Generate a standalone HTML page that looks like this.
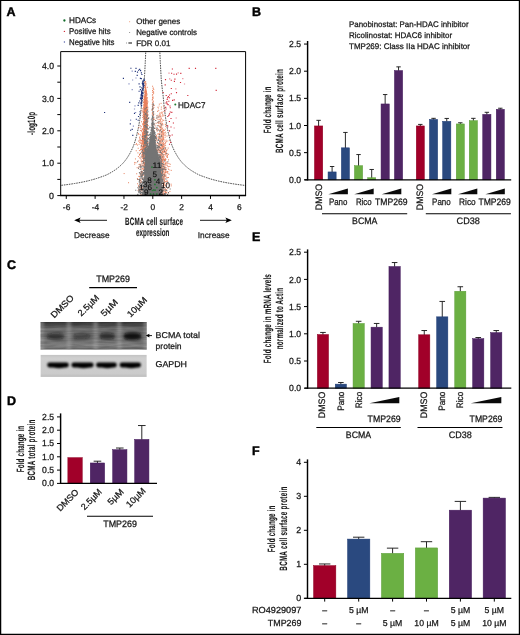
<!DOCTYPE html>
<html lang="en"><head><meta charset="utf-8"><title>Figure: HDAC inhibition and BCMA expression</title>
<style>html,body{margin:0;padding:0;background:#fff}body{width:520px;height:635px;overflow:hidden}svg{display:block}text{stroke:#161616;stroke-width:.25px;text-rendering:geometricPrecision}text.pl{stroke:#000;stroke-width:.45px}text.cn{stroke-width:.1px}text.nm{stroke:#0c0c0c;stroke-width:.12px}</style>
</head><body>
<svg width="520" height="635" viewBox="0 0 520 635" font-family='"Liberation Sans", sans-serif' font-size="8.4" fill="#161616">
<defs>
<clipPath id="clipA"><rect x="60.7" y="51.6" width="184.9" height="143.9"/></clipPath>
<clipPath id="clipC1"><rect x="40.4" y="321.9" width="106.4" height="27.8"/></clipPath>
<clipPath id="clipC2"><rect x="40.4" y="354.7" width="106.4" height="22.2"/></clipPath>
<filter id="blur2" x="-20%" y="-50%" width="140%" height="200%"><feGaussianBlur stdDeviation="1.8"/></filter>
<filter id="blur1" x="-20%" y="-50%" width="140%" height="200%"><feGaussianBlur stdDeviation="0.8"/></filter>
<filter id="noise" x="0" y="0" width="100%" height="100%"><feTurbulence type="fractalNoise" baseFrequency="0.06 0.55" numOctaves="2" seed="4"/><feColorMatrix type="matrix" values="0 0 0 0 0  0 0 0 0 0  0 0 0 0 0  1.5 0 0 0 -0.45"/></filter>
<linearGradient id="b1bg" x1="0" y1="0" x2="0" y2="1"><stop offset="0" stop-color="#383838"/><stop offset="0.12" stop-color="#4c4c4c"/><stop offset="0.24" stop-color="#747474"/><stop offset="0.36" stop-color="#727272"/><stop offset="0.52" stop-color="#686868"/><stop offset="0.68" stop-color="#767676"/><stop offset="0.84" stop-color="#868686"/><stop offset="0.94" stop-color="#747474"/><stop offset="1" stop-color="#5c5c5c"/></linearGradient>
<linearGradient id="b2bg" x1="0" y1="0" x2="0" y2="1"><stop offset="0" stop-color="#c2c2c2"/><stop offset="0.15" stop-color="#cfcfcf"/><stop offset="0.85" stop-color="#cbcbcb"/><stop offset="1" stop-color="#bdbdbd"/></linearGradient>
</defs>
<rect x="0" y="0" width="520" height="635" fill="#fff"/>
<text x="6.6" y="16.4" font-size="12.5" font-weight="bold" class="pl" fill="#000">A</text>
<circle cx="64.4" cy="20.5" r="1.15" fill="#0f6a28"/>
<circle cx="64.4" cy="31.4" r="0.7" fill="#d0303c"/>
<circle cx="64.4" cy="42" r="0.7" fill="#5560a8"/>
<text x="69" y="23" font-size="8.2" textLength="27.2" lengthAdjust="spacingAndGlyphs">HDACs</text>
<text x="69" y="33.8" font-size="8.2" textLength="41.6" lengthAdjust="spacingAndGlyphs">Positive hits</text>
<text x="69" y="44.6" font-size="8.2" textLength="45.4" lengthAdjust="spacingAndGlyphs">Negative hits</text>
<rect x="129.2" y="21.3" width="0.9" height="0.9" fill="#ee8a60"/>
<rect x="129.2" y="32.1" width="0.9" height="0.9" fill="#777"/>
<rect x="126.2" y="42.6" width="0.8" height="0.8" fill="#555"/>
<rect x="128.4" y="42.4" width="3.6" height="1.2" fill="#333"/>
<text x="136.2" y="24.2" font-size="8">Other genes</text>
<text x="136.2" y="35" font-size="8" textLength="60.8" lengthAdjust="spacingAndGlyphs">Negative controls</text>
<text x="136.2" y="45.7" font-size="8">FDR 0.01</text>
<g clip-path="url(#clipA)">
<path d="M145.83,50 145.76,51.5 145.7,53 145.63,54.5 145.56,56 145.5,57.5 145.43,59 145.36,60.5 145.28,62 145.21,63.5 145.13,65 145.06,66.5 144.98,68 144.9,69.5 144.81,71 144.73,72.5 144.64,74 144.55,75.5 144.46,77 144.37,78.5 144.26,80 144.12,81.5 143.97,83 143.81,84.5 143.65,86 143.49,87.5 143.32,89 143.14,90.5 142.96,92 142.77,93.5 142.58,95 142.42,96.5 142.28,98 142.14,99.5 142,101 141.85,102.5 141.69,104 141.53,105.5 141.37,107 141.2,108.5 141.03,110 140.85,111.5 140.66,113 140.47,114.5 140.27,116 140.06,117.5 139.84,119 139.62,120.5 139.39,122 139.15,123.5 138.9,125 138.63,126.5 138.33,128 138.02,129.5 137.7,131 137.36,132.5 137.01,134 136.64,135.5 136.25,137 135.84,138.5 135.41,140 134.96,141.5 134.48,143 133.97,144.5 133.4,146 132.77,147.5 132.1,149 131.39,150.5 131.14,151 130.89,151.5 130.62,152 130.36,152.5 130.08,153 129.8,153.5 129.52,154 129.23,154.5 128.94,155 128.65,155.5 128.35,156 128.03,156.5 127.72,157 127.39,157.5 127.06,158 126.71,158.5 126.36,159 125.99,159.5 125.62,160 125.23,160.5 124.84,161 124.43,161.5 124.01,162 123.58,162.5 123.12,163 122.65,163.5 122.17,164 121.67,164.5 121.15,165 120.61,165.5 120.06,166 119.49,166.5 118.92,167 118.33,167.5 117.71,168 117.08,168.5 116.42,169 115.74,169.5 115.02,170 114.28,170.5 113.5,171 112.69,171.5 111.85,172 111,172.5 110.14,173 109.24,173.5 108.31,174 107.33,174.5 106.3,175 105.06,175.5 103.75,176 102.37,176.5 100.91,177 99.45,177.5 98.01,178 96.49,178.5 94.88,179 93.17,179.5 91.35,180 89.42,180.5 87.36,181 85.16,181.5 82.8,182 80.25,182.5 77.51,183 74.55,183.5 71.33,184 67.84,184.5 64.02,185 59.81,185.5 55.1,186 49.87,186.5 44.05,187" fill="none" stroke="#3a3a3a" stroke-width="0.9" stroke-dasharray="1.6 0.9"/>
<path d="M159.77,50 159.84,51.5 159.9,53 159.97,54.5 160.04,56 160.1,57.5 160.17,59 160.24,60.5 160.32,62 160.39,63.5 160.47,65 160.54,66.5 160.62,68 160.7,69.5 160.79,71 160.87,72.5 160.96,74 161.05,75.5 161.14,77 161.23,78.5 161.34,80 161.48,81.5 161.63,83 161.79,84.5 161.95,86 162.11,87.5 162.28,89 162.46,90.5 162.64,92 162.83,93.5 163.02,95 163.18,96.5 163.32,98 163.46,99.5 163.6,101 163.75,102.5 163.91,104 164.07,105.5 164.23,107 164.4,108.5 164.57,110 164.75,111.5 164.94,113 165.13,114.5 165.33,116 165.54,117.5 165.76,119 165.98,120.5 166.21,122 166.45,123.5 166.7,125 166.97,126.5 167.27,128 167.58,129.5 167.9,131 168.24,132.5 168.59,134 168.96,135.5 169.35,137 169.76,138.5 170.19,140 170.64,141.5 171.12,143 171.63,144.5 172.2,146 172.83,147.5 173.5,149 174.21,150.5 174.46,151 174.71,151.5 174.98,152 175.24,152.5 175.52,153 175.8,153.5 176.08,154 176.37,154.5 176.66,155 176.95,155.5 177.25,156 177.57,156.5 177.88,157 178.21,157.5 178.54,158 178.89,158.5 179.24,159 179.61,159.5 179.98,160 180.37,160.5 180.76,161 181.17,161.5 181.59,162 182.02,162.5 182.48,163 182.95,163.5 183.43,164 183.93,164.5 184.45,165 184.99,165.5 185.54,166 186.11,166.5 186.68,167 187.27,167.5 187.89,168 188.52,168.5 189.18,169 189.86,169.5 190.58,170 191.32,170.5 192.1,171 192.91,171.5 193.75,172 194.6,172.5 195.46,173 196.36,173.5 197.29,174 198.27,174.5 199.3,175 200.54,175.5 201.85,176 203.23,176.5 204.69,177 206.15,177.5 207.59,178 209.11,178.5 210.72,179 212.43,179.5 214.25,180 216.18,180.5 218.24,181 220.44,181.5 222.8,182 225.35,182.5 228.09,183 231.05,183.5 234.27,184 237.76,184.5 241.58,185 245.79,185.5 250.5,186 255.73,186.5 261.55,187" fill="none" stroke="#3a3a3a" stroke-width="0.9" stroke-dasharray="1.6 0.9"/>
<path d="M145.13,81.56h1M144.52,82.59h1M144.12,82.18h1M144.71,83.09h1M145.48,83.3h1M145.27,84.04h1M145.54,84.98h1M144.65,85.16h1M144.64,85.02h1M144.82,86.24h1M144.27,86.03h1M145,86.84h1M144.02,87.64h1M144.89,87.46h1M146.79,87.28h1M144.89,88.71h1M144.97,88.32h1M145.4,88.07h1M145.3,89.4h1M144.42,89.96h1M145.4,89.85h1M144.96,89.91h1M144.77,90.98h1M145.13,90.63h1M144.94,90.78h1M145.25,90.33h1M145,90.96h1M144.64,91.1h1M145.11,91.06h1M144.58,91.56h1M145.41,91.45h1M146.03,91.13h1M145.55,91.64h1M145.48,91.21h1M145.25,92.97h1M144.44,92.88h1M143.91,92.21h1M145.92,92.64h1M145.51,92.1h1M144.99,92.26h1M144.74,92.77h1M145.6,93.09h1M145.1,93.58h1M146.07,93.37h1M145.9,93.45h1M144.84,93.57h1M145.25,93.87h1M145.47,93.91h1M145.07,93.82h1M145.56,93.74h1M146.61,94.2h1M144.59,94.6h1M145.26,94.42h1M145.24,94.96h1M144.91,94.24h1M144.51,94.82h1M144.96,94.6h1M145.57,94.72h1M145.21,94.07h1M146.12,95.61h1M145.57,95.28h1M144.83,95.02h1M144.83,95.27h1M145.19,95.18h1M144.71,95.37h1M144.91,95.36h1M146.27,95.89h1M144.95,95.69h1M145.23,95.58h1M145.25,96.91h1M145.25,96.7h1M145.04,96.64h1M145,96.48h1M144.36,97h1M143.82,96.08h1M144.7,96.9h1M144.66,96.74h1M143.68,96.92h1M144.39,96.35h1M143.46,96.87h1M145.78,97.79h1M144.25,97.62h1M144.09,97.38h1M144.52,97.08h1M146.78,97.64h1M145,97.73h1M144.97,97.39h1M143.99,97.44h1M146.27,97.84h1M145.77,97.03h1M144.48,97.6h1M145.14,97.7h1M145.63,98.61h1M144.76,98.01h1M144.82,98.3h1M144.56,98.17h1M144.57,98.91h1M144.29,98.89h1M144.79,98.33h1M144.58,98.43h1M146.56,98.81h1M144.18,98.38h1M144.88,98.58h1M145.48,98.5h1M144.54,99.85h1M143.03,99.28h1M144.41,99.17h1M145.27,99.21h1M144.36,99.41h1M144.35,99.32h1M145.99,99.84h1M144.95,99.07h1M145.23,99.03h1M144.87,99.71h1M144.51,99.57h1M146.46,99.02h1M146.65,100.45h1M145.3,100.24h1M146.21,100.14h1M145.4,100.45h1M144.16,100.63h1M143.73,100.96h1M145.35,100.68h1M145.98,100.18h1M143.71,100.01h1M145.29,100.18h1M144.29,100.27h1M146.15,100.52h1M145.08,100.61h1M144.17,100.79h1M146.31,101.09h1M144.46,101.13h1M143.68,101.45h1M143.67,101.38h1M146.17,101.57h1M143.95,101.94h1M144.69,101.46h1M144.55,101.72h1M144.15,101.82h1M143.96,101.21h1M147.44,101.9h1M144.74,101.54h1M144.2,101.79h1M146.78,101.86h1M143.99,102.08h1M145.43,102.77h1M146.62,102.49h1M145.32,102.06h1M145.4,102.8h1M145.74,102.79h1M145.66,102.14h1M145.89,102.72h1M144.22,102.84h1M143.03,102.49h1M145.56,102.95h1M145.35,102.53h1M144.86,102.29h1M143.77,102.52h1M144.3,102.84h1M144.72,103.85h1M145.47,103.9h1M146.72,103.97h1M144.47,103.52h1M144.75,103.54h1M144.85,103.5h1M144.88,103.97h1M143.7,103.52h1M145.96,103.56h1M144.89,103.49h1M144.7,103.54h1M146.98,103.41h1M144.47,103.27h1M145.69,103.47h1M145.7,103.82h1M144.76,104.48h1M145.55,104.62h1M146.1,104.93h1M146.16,104.02h1M145.21,104.19h1M146.38,104.32h1M144.69,104.36h1M144.71,104.73h1M144.32,104.12h1M144.96,104.2h1M144.19,104.53h1M145.35,104.41h1M145.34,104.53h1M145.53,104.63h1M143.25,104.64h1M144.66,105.86h1M144.9,105.23h1M143.3,105.9h1M144.17,105.32h1M146.91,105.22h1M145.37,106h1M144.68,105.24h1M144.97,105.73h1M145.41,105.83h1M145.11,105.42h1M144.53,105.4h1M145.61,105.69h1M145.06,105.68h1M145.44,105.91h1M144.9,105.51h1M143.58,105.76h1M144.96,106.07h1M146.14,106.11h1M145.26,106.51h1M145.35,106.57h1M145.46,106.2h1M147.13,106.84h1M144.86,106.1h1M145.98,106.06h1M144.67,106.76h1M143.88,106.33h1M145.22,106.43h1M146.44,106.6h1M145.1,106.84h1M143.52,106.18h1M145.42,106.41h1M145.56,106.2h1M145.95,106.02h1M144.44,107.8h1M143.16,107.63h1M144.06,107.4h1M144.31,107.98h1M144.86,107.8h1M147.07,107.74h1M145.36,107.78h1M144.08,107.9h1M144.42,107.88h1M143.44,107.77h1M144.91,107.41h1M144.62,107.34h1M145.86,107.47h1M145.03,107.64h1M145.23,107.62h1M147.25,107.67h1M144.32,107.34h1M143.91,108.39h1M144.02,109h1M143.79,108.76h1M146.28,108.98h1M145.15,108.74h1M144.72,108.26h1M145.15,108.2h1M145.56,108.38h1M145.39,108.91h1M142.45,108.55h1M144.84,108.57h1M143.82,109h1M143.64,108.08h1M144.98,108.6h1M144.67,108.93h1M144.39,108.16h1M145.07,108.5h1M145.91,109.06h1M144.61,109.53h1M144.42,109.6h1M145.55,109.66h1M144.63,109.56h1M146.47,109.3h1M144.97,109.01h1M145.25,109.16h1M143.35,109.75h1M146.28,109.75h1M147.28,109.05h1M144.8,109.07h1M143.94,109.91h1M145.43,109.97h1M142.7,109.24h1M144.62,109.72h1M146.73,109.47h1M144.71,110.12h1M144.3,110.62h1M145.13,110.05h1M145.7,110.53h1M145.7,110.67h1M144.85,110.46h1M146.24,110.42h1M141.57,110.78h1M144.28,110.95h1M144.98,110.73h1M145.43,110.89h1M144.28,110.78h1M144.29,110.27h1M143.73,110.69h1M144.42,110.63h1M145.22,110.75h1M145.64,110.98h1M145.28,111.88h1M145.02,111.27h1M144.6,111.43h1M144.61,111.54h1M146.22,111.07h1M145.71,111.55h1M144.14,111.63h1M145.75,111.21h1M144.87,111.34h1M143.04,111.07h1M145.44,111.12h1M143.63,111.77h1M144.25,111.21h1M145.29,111.81h1M143.23,111.37h1M142.47,111.33h1M144.88,111.55h1M142.66,112.37h1M145.22,112.1h1M144.64,112.08h1M143.39,112.56h1M145.07,112.3h1M145.55,112.78h1M145.25,112.66h1M144.39,112.08h1M146.46,112.69h1M145.52,112.28h1M145.67,112.73h1M146.1,112.37h1M145.99,112.57h1M147.01,112.92h1M144.1,112.44h1M144.62,112.8h1M145.76,112.4h1M144.92,113.89h1M145.88,113.37h1M144.12,113.36h1M145.53,113.19h1M145.29,113.56h1M143.69,113.84h1M145.68,113.56h1M146.46,113.88h1M146.13,113.28h1M145.09,113.54h1M146.37,113.57h1M144.6,113.8h1M143.21,113.06h1M144.4,113.08h1M144.74,113.08h1M142.75,113.08h1M145.96,113.63h1M146.25,114.25h1M145.03,114.22h1M143.65,114.76h1M143.48,114.39h1M147.22,114.67h1M143.3,114.49h1M144.52,114.71h1M143.26,114.91h1M145.94,114.67h1M145.58,114.85h1M143.05,114.89h1M144.09,114.96h1M143.93,114.71h1M143.95,114.8h1M145.42,114.15h1M145.91,114.74h1M144.85,114.17h1M144.17,115.42h1M147.56,115.06h1M146.02,115.31h1M145.88,115.78h1M145.96,115.18h1M145.33,115.58h1M145.37,115.91h1M145.01,115.18h1M145.05,115.22h1M146.54,115.59h1M145.23,115.22h1M145.67,115.17h1M144.38,115.76h1M146.1,115.82h1M144.74,115.48h1M147.07,115.91h1M142.39,115.34h1M144.12,115.48h1M146.66,116.05h1M144.25,116.38h1M144.02,116.53h1M144.76,116.99h1M144.87,116.66h1M145.02,116.47h1M145.35,116.37h1M143.25,116.61h1M145.38,116.16h1M145.64,116.26h1M143.35,116.87h1M144.69,116.99h1M144.28,116.27h1M144.72,116.77h1M145.76,116h1M143,116.82h1M144.66,116.08h1M146.53,116.1h1M146.2,117.47h1M144.43,117.86h1M145.11,117.3h1M143.74,117.92h1M145.18,117.09h1M144.18,117.54h1M145.94,117.53h1M146.52,117.31h1M145.65,117.31h1M145.25,117.47h1M143.79,117.72h1M146.1,117.11h1M142.13,117.39h1M145.49,117.83h1M145.87,117.65h1M144.91,117.71h1M143.75,117.24h1M144.32,118.99h1M145.2,118.8h1M146.25,118.29h1M143.93,118.38h1M144.59,118.34h1M144.39,118.39h1M144.1,118.2h1M143.55,118.73h1M147.1,118.56h1M143.8,118.72h1M146.58,118.09h1M146.16,118.14h1M145.71,118.71h1M143.14,118.18h1M145.99,118.59h1M144.91,118.09h1M145.44,118.12h1M146.99,118.41h1M145.87,119.51h1M144.99,119.65h1M142.77,119.39h1M144.62,119.33h1M144.88,119.4h1M146.7,119.7h1M144.56,119.66h1M145.75,119.61h1M144.9,119.34h1M145.61,119.65h1M145.44,119.51h1M145.46,119.79h1M143.45,119.16h1M145.91,119.77h1M144,119.35h1M145.87,119.5h1M146.12,119.99h1M145.13,120.72h1M144.1,120.94h1M144.9,120.63h1M145.2,120.24h1M144.43,120.58h1M143.79,120.93h1M144.2,120.36h1M144.87,120.97h1M145.9,120.14h1M143.96,120.56h1M144.53,120.56h1M147.19,120.99h1M144.28,120.82h1M144.4,120.82h1M145.41,120.29h1M144.25,120.57h1M145.3,120.83h1M146.04,121.03h1M147.4,121.18h1M144.5,121.66h1M143.85,121.31h1M143.1,121.38h1M144.79,121.59h1M144.54,121.2h1M145.43,121.47h1M145.6,121.57h1M143.86,121.17h1M144.61,121.57h1M144.53,121.33h1M144.48,121.67h1M146.21,121.14h1M144.34,121.47h1M143.49,121.41h1M143.49,121.76h1M141.04,121.75h1M145.03,122.86h1M143.33,122.41h1M145.3,122.91h1M143.48,122.53h1M144.49,122.9h1M146.45,122.32h1M145.32,122.9h1M143.1,122.73h1M143.6,122.3h1M145.24,122.59h1M144.96,122.45h1M144.4,122.5h1M144.92,122.69h1M144.77,122.53h1M145.69,122.4h1M147.02,122.24h1M145.76,122.97h1M142.76,123.87h1M145.69,123.22h1M142.32,123.75h1M143.65,123.1h1M145.72,123.79h1M145.7,123.95h1M144.72,123h1M145.67,123.32h1M146.39,123.06h1M143.35,123.4h1M144.37,123.36h1M144.5,123.03h1M144.16,123.9h1M145.97,123.93h1M143.86,123.98h1M144.82,123.3h1M145.29,123.92h1M144.17,124.35h1M145.82,124.47h1M146.85,125h1M144.13,124.2h1M144.05,124.88h1M146.17,124.05h1M145.85,124.31h1M145.95,124.9h1M143.27,124.13h1M145.86,124.7h1M144.16,124.08h1M143.99,124.22h1M146.42,124.2h1M144.82,124.18h1M146.43,124.79h1M143.34,124.37h1M142.5,124.59h1M146.26,125.3h1M143.82,125.28h1M147.59,125.64h1M146.5,125.44h1M144.25,125.53h1M144.54,125.6h1M144.61,125.28h1M146.83,125.09h1M144.66,125.29h1M143.7,125.28h1M145.64,125.55h1M147.05,125.99h1M142.66,125.03h1M145.11,125.38h1M143.83,125.93h1M144.62,125.56h1M143.47,125.64h1M146.01,125.78h1M145.67,126.51h1M143.02,126.52h1M145.59,126.95h1M146.53,126.17h1M144.72,126.61h1M145.94,126.77h1M144.82,126.79h1M143.7,126.49h1M143.31,126.22h1M143.9,126.04h1M144.23,126.6h1M142.97,126.87h1M144.74,126.18h1M144.79,126.5h1M143.68,126.43h1M144.94,126.8h1M145.95,126.07h1M143.64,127.79h1M145.24,127.24h1M145.45,127.04h1M143.44,127.31h1M143.5,127.26h1M146.58,127.59h1M145.82,127.17h1M145.62,127.25h1M146.22,127.83h1M145.79,127.79h1M145.06,127.36h1M144.94,127.22h1M144.5,127.49h1M145.28,127.76h1M144.51,127.46h1M145.49,127.74h1M144.79,127.89h1M144.14,128.39h1M145.85,128.08h1M146.75,128.03h1M144.48,128.73h1M144.51,128.23h1M146.19,128.24h1M145.67,128.46h1M144.04,128.34h1M144.24,128.98h1M144.3,128.4h1M145.65,128.65h1M144.97,128.69h1M142.22,128.86h1M143.08,128.46h1M145.25,128.39h1M143.46,128.78h1M144.07,128.22h1M145.22,128.55h1M144.85,129.2h1M145.97,129.31h1M146.51,129.45h1M144.42,129.86h1M144.14,129.2h1M144.86,129.69h1M144.48,129.36h1M144.77,129.18h1M142.17,129.26h1M146.39,129.72h1M144.03,129.27h1M145.09,129.94h1M144.73,129.36h1M142.37,129.91h1M143.96,129.02h1M145.69,129.08h1M143.46,129.88h1M146.54,129.52h1M144.52,130.39h1M144.88,130.15h1M145.63,130.6h1M144.72,130.42h1M145.88,130.54h1M146.08,130.26h1M144.1,130.73h1M143.84,130.2h1M144.17,130.28h1M143.15,130.39h1M144.65,130.87h1M145.6,130.34h1M144.78,130.22h1M144.56,130.63h1M145.82,130.57h1M141.07,130.3h1M145.31,130.67h1M144.02,130.69h1M145.13,131.96h1M143.71,131.63h1M143.25,131.09h1M145.07,131.06h1M143.7,131.38h1M145.88,131.28h1M143.2,131.16h1M145.36,131.17h1M144.49,131.67h1M145.07,131.34h1M145.52,131.42h1M145.94,131.7h1M144.37,131.55h1M144.18,131.39h1M145.75,131.36h1M145.01,131.05h1M143.13,131.5h1M143.63,132.25h1M142.77,132.02h1M146.85,132.57h1M144,132.26h1M143.65,132.47h1M145.71,132.62h1M144.06,132.58h1M144.69,132.94h1M142.48,132.62h1M143.47,132.41h1M145,132.83h1M142.15,132.88h1M146.5,132.04h1M143.25,132.14h1M144.38,132.36h1M144.96,132.98h1M145.18,132.23h1M144.43,132.68h1M144.47,133.39h1M142.36,133.24h1M144.49,133.55h1M141.91,133.62h1M143.39,133.97h1M142.72,133.33h1M146.84,133.31h1M143.67,133.72h1M142.34,133.96h1M145.47,133.82h1M146.08,133.49h1M143.61,133.56h1M145.26,133.75h1M144.49,133.53h1M145.48,133.32h1M143.68,133.18h1M144.36,133.06h1M146.19,133.07h1M145.74,134.45h1M143.51,134.77h1M144.48,134.87h1M145.42,134.87h1M144.75,134.51h1M142.57,134.8h1M145.82,134.25h1M143.77,134.72h1M145.53,134.76h1M145.26,134.84h1M142.73,134.42h1M142.41,134.71h1M142.46,134.8h1M142.86,134.13h1M145.88,134.23h1M146.29,134.18h1M144.53,134.94h1M145.85,134.97h1M146.03,135.63h1M148.38,135.4h1M142.59,135.05h1M144.67,135.71h1M144.65,135.29h1M145.09,135.73h1M144.33,135.33h1M142.75,135.03h1M143.91,135.37h1M145.23,135.31h1M141.7,135.28h1M142.51,135.39h1M142.64,135.98h1M143.72,135.39h1M142.6,135.8h1M144.68,135.15h1M144.97,135.93h1M143.62,135.25h1M144.39,136.02h1M145.63,136.57h1M145.97,136.27h1M142.92,136.23h1M144.49,136.26h1M147.22,136.05h1M145.57,136.31h1M145.04,136.08h1M145.89,137h1M145.49,136.2h1M143.06,136.41h1M143.91,136.81h1M144.64,136.55h1M143.46,136.66h1M143.47,136.94h1M145.94,136.86h1M144.26,136.83h1M144.48,136.72h1M144.62,137.12h1M142.71,137.07h1M146.27,137.31h1M145.34,137.51h1M144.36,137.96h1M141.6,137.01h1M143.82,137.79h1M142.08,137.74h1M145.92,137.83h1M144.99,137.77h1M144.23,137.95h1M143.98,137.4h1M143.17,137.91h1M143.35,137.02h1M143.8,137.39h1M142.78,137.37h1M142,137.36h1M143.55,137.64h1M145.27,138.32h1M143,138.09h1M146.46,138.21h1M142.02,138.74h1M143.62,138.18h1M145.17,138.11h1M145.4,138.43h1M142.73,138.01h1M144.25,138.32h1M145.27,138.54h1M143.95,138.88h1M144.3,138.32h1M143.52,138.99h1M145.33,138.43h1M144.02,138.41h1M144.81,138.71h1M145.38,138.68h1M144.85,139.32h1M145.59,139.99h1M143.25,139.15h1M143.1,139.64h1M141.82,139.21h1M142.04,139.86h1M142.21,139.63h1M144.2,139.11h1M143.6,139.84h1M142.64,139.67h1M143.4,139.42h1M145,139.6h1M143.84,139.57h1M144.2,139.63h1M142.49,139.45h1M143.06,139.93h1M139.45,139.15h1M145.2,140.31h1M145.83,140.74h1M144.1,140.87h1M146.07,140.13h1M144.11,140.23h1M141.98,140.84h1M141.17,140.83h1M139.14,140.8h1M143.86,140.06h1M143.92,140.87h1M143.03,140.81h1M141.12,140.45h1M143.51,140.2h1M143.84,140.28h1M143.73,140.55h1M143.02,140.79h1M144.28,140.8h1M144.47,140.86h1M142.15,141.8h1M143.71,141.15h1M144.76,141.04h1M146.22,141.35h1M141.92,141.12h1M141.81,141.18h1M146.22,141.62h1M148.53,141.9h1M146.29,141.21h1M146.05,141.63h1M142.38,141.2h1M143.93,141.67h1M144.32,141.34h1M143.31,141.32h1M143.24,141.6h1M144.55,141.69h1M144.96,141.69h1M147.07,142.13h1M146.77,142.61h1M145.93,142.36h1M149.2,142.69h1M143.25,142.74h1M145.25,142.41h1M143.01,142.15h1M142.89,142.82h1M142.29,142.41h1M144.68,142.94h1M143.83,142.35h1M143.01,142.58h1M145.11,142.28h1M143.19,142.85h1M140.48,142.68h1M145.24,142.39h1M142.72,142.74h1M143.12,142.06h1M140.3,143.28h1M145.64,143.29h1M143.55,143.69h1M143.04,143.41h1M145.15,143.13h1M143.37,143.42h1M145.53,143.34h1M141.2,143.59h1M147.02,143.55h1M146.21,143.09h1M142.27,143.36h1M146.03,143.67h1M147.4,143.34h1M141.74,143.02h1M142.59,143.63h1M144.44,143.46h1M143.07,143.32h1M142.12,143.97h1M141.58,144.99h1M146.05,144.65h1M144.74,144.7h1M144.11,144.46h1M143.46,144.4h1M143.11,144.99h1M143.48,144.21h1M144.8,144.39h1M144.99,144.74h1M144.62,144.65h1M144.05,144.62h1M142.81,144.81h1M144.25,144.73h1M143.27,144.47h1M146.69,144.02h1M140.95,144.9h1M142.89,144.02h1M145.79,145.11h1M143.41,145.79h1M146.01,145.12h1M144.57,145.57h1M144.61,145.51h1M144.31,145.29h1M142.82,145.41h1M144.47,145.05h1M145.9,145.56h1M144.55,145.46h1M143.41,145.85h1M146.13,145.15h1M143.69,145.41h1M146.95,145.61h1M140.77,145.41h1M145.89,145.01h1M146.66,145.73h1M145.23,145.71h1M145.8,146.11h1M146.44,146.3h1M143.49,146.85h1M143.45,146.05h1M144.38,146.26h1M145.38,146.11h1M143.28,146.49h1M147.16,146.65h1M141.31,146.57h1M145.44,146.5h1M143.06,146.3h1M143.93,146.74h1M145.67,146.43h1M142.88,146.48h1M145.44,146.45h1M144.36,146.05h1M143.5,146.53h1M143.04,146.55h1M144.7,147.37h1M142.74,147.31h1M144.09,147.75h1M145.74,147.49h1M144.05,147.97h1M140.35,147.01h1M141.55,147.37h1M142.98,147.6h1M145.04,147.61h1M143.16,147.59h1M145.83,147.52h1M144.68,147.75h1M144.24,147.25h1M144.5,147.27h1M142.21,147.86h1M143.4,147.4h1M146.53,147.09h1M144.71,147.98h1M142.56,148.82h1M143.54,148.79h1M143.45,148.76h1M142.39,148.05h1M142.35,148.93h1M147.93,148.64h1M144.48,148.75h1M146.76,148.58h1M144.03,148.42h1M147.77,148.68h1M143.55,148.07h1M141.21,148.78h1M144.99,148.38h1M143.13,148.45h1M144.27,148.32h1M144.69,148.73h1M144.28,148.83h1M143.1,148.67h1M143.63,149.31h1M140.18,149.95h1M142.44,149.21h1M140.63,149.41h1M143.14,149.12h1M143.42,149.87h1M143.95,149.43h1M142.05,149.38h1M140.31,149.49h1M141.55,149.69h1M145.85,149.11h1M145.02,149.74h1M145.89,149.2h1M144.72,149.35h1M145.26,149.59h1M142.13,149.52h1M145.33,149.84h1M138.93,150.58h1M144.44,150.33h1M143.96,150.7h1M145.17,150.73h1M143.79,150.57h1M144.45,150.82h1M143.44,150.38h1M141.99,150.62h1M147.63,150.56h1M143.24,150.46h1M144.17,150.49h1M146.75,150.1h1M144.1,150.31h1M143.43,150.7h1M142.32,150.57h1M143.25,151.95h1M144.04,151.76h1M143.01,151.78h1M144.47,151.22h1M145.84,151.61h1M144.01,151.12h1M141.43,151.9h1M143.13,151.92h1M142.19,151.95h1M142.88,151.72h1M147.14,151.73h1M143.79,151.26h1M144.13,151.54h1M143.43,151.25h1M145.03,152.48h1M143.42,152.27h1M145.12,152.51h1M145.59,152.87h1M146.68,152.85h1M140.94,152.61h1M142.94,152.53h1M146.4,152.66h1M142.25,152.26h1M145.3,152.05h1M143.06,152.79h1M142.11,152.23h1M144.21,152.73h1M142.16,153.51h1M143.02,153.23h1M146.92,153.95h1M146.38,153.66h1M144.37,153.07h1M143.19,153.57h1M145.22,153.12h1M143.55,153.87h1M143.36,153.06h1M143.12,153.03h1M146.37,153.57h1M143.32,154.78h1M145.57,154.52h1M144.66,154.18h1M142.34,154.53h1M145.31,154.2h1M141.82,154.71h1M144.67,154.08h1M139.12,154.49h1M141.92,154.56h1M143.14,154.13h1M145.11,155.94h1M147.47,155.98h1M142.28,155.86h1M145.64,155.93h1M143.84,155.59h1M141.67,155.69h1M141.93,155.93h1M139.07,155.09h1M142.99,156.11h1M143.89,156.87h1M143.44,156.03h1M142.68,156.83h1M141.48,156.58h1M143.54,156.76h1M143.48,156.07h1M146.91,156.79h1M142.95,157.34h1M146.6,157.35h1M143.78,157.26h1M141.84,157.59h1M143.2,157.67h1M143.85,157.45h1M147.21,158.15h1M140.26,158.25h1M143.86,158.33h1M142.63,158.24h1M142.25,158.52h1M143.89,159.88h1M144.61,159.3h1M142.98,159.33h1M140.62,159.79h1M146.13,159.54h1M144.83,160.22h1M145.11,160.41h1M143.22,160.36h1M145.14,160.91h1M143.23,160.14h1M141.52,161.78h1M146.08,161.38h1M140.73,161.29h1M141.58,161.48h1M141.42,162.01h1M143.26,162.07h1M144,162.91h1M144.21,162.88h1M140.77,163.93h1M146.84,163.14h1M144.33,163.71h1M142.78,163.14h1M142.42,164.88h1M138.55,164.45h1M144.23,164.37h1M144.14,164.94h1M142.75,165.18h1M143.58,165.31h1M144.76,165.18h1M144.71,165.54h1M138.45,166.76h1M142.29,166.08h1M144.51,166.22h1M143.8,166.76h1M143.93,167.5h1M144.46,167.57h1M144.39,167.29h1M137.96,168.6h1M141.73,168.85h1M143.23,168.94h1M146.21,168.98h1M143.45,169.05h1M144.42,169.16h1M145.75,169.21h1M143.61,169.02h1M146.34,170.65h1M143.04,170.47h1M143.22,170.3h1M142.74,170.04h1M145.59,171.47h1M142.1,171.62h1M144.53,171.88h1M140.73,171.58h1M144.06,172.33h1M143.29,172.91h1M147.42,172.85h1M144.04,172.88h1M144.81,173.29h1M142.56,173.17h1M141.35,173.58h1M142.54,174.95h1M143.63,174.69h1M140.58,174.35h1M141.88,174.92h1M145.07,175.38h1M142.75,175.27h1M141.2,175.57h1M141.02,176.5h1M139.31,176.48h1M138.55,176.28h1M145.8,176.44h1M144.47,177.83h1M142.5,177.8h1M147.01,177.5h1M144.83,178.56h1M141.82,178.48h1M143.92,178.29h1M140.55,179.2h1M144.44,179.22h1M139.36,179.98h1M143.48,180.69h1M139.42,180.81h1M143.2,181.18h1M140.89,181.24h1M144.93,181.92h1M142.8,182.79h1M146.54,182.61h1M139.9,182.64h1M146.99,183.67h1M146.17,183.87h1M143.69,183.31h1M145.34,184.99h1M144.76,184.62h1M144.74,185.87h1M143.28,185.77h1M138.17,185.57h1M140.22,186.64h1M142.42,186.35h1M142.72,187.16h1M140.8,187.65h1M141.39,187.78h1M139.83,188.27h1M140.31,188.19h1M139.59,189.33h1M143.7,189.93h1M141.22,190.62h1M142.44,190.96h1M140.2,191.52h1M146.34,191.49h1M143.05,192.47h1M142.08,192.74h1M143.52,193.24h1M142.71,193.33h1M142.32,194.53h1M140.55,194.95h1M152.08,86.24h1M152.72,87.96h1M152.71,88.76h1M153.25,89.64h1M152.05,90.54h1M152.68,91.53h1M153.11,92.15h1M152.3,92.55h1M153.12,93.32h1M152.26,94.65h1M151.9,95.11h1M152.52,96.95h1M152.29,97.27h1M152.16,97.69h1M152.5,98.57h1M151.95,99.4h1M151.78,100.05h1M152.95,101.13h1M152.6,102.07h1M152.16,102.39h1M152.45,103.85h1M151.78,104.59h1M153.83,105.3h1M152.83,105.22h1M151.91,106.4h1M152.35,106.89h1M153.39,107.45h1M151.93,108.44h1M152.54,108.62h1M152.49,109.3h1M151.77,109.47h1M151.52,110.45h1M153.29,111.79h1M152.37,112.67h1M151.9,112.72h1M152.08,113.66h1M151.83,114.23h1M152.96,115.54h1M152.33,116.02h1M152.35,117.77h1M153.28,118.4h1M152.87,118.99h1M153.75,119.58h1M152.74,119.82h1M151.84,120.71h1M151.95,121.75h1M152.16,122.56h1M153.18,123.99h1M153.3,124.73h1M151.63,125.27h1M152.05,126.17h1M152.1,127.89h1M151.9,128.42h1M151.54,129.61h1M152.62,131.95h1M152.96,132.76h1M160.59,103.37h1M158.85,104.15h1M163.17,106.18h1M160.86,107.09h1M157.45,107.26h1M163.34,108.7h1M160.74,109.21h1M158.23,110.7h1M163.51,111.47h1M157.02,111.31h1M161.51,112.61h1M160.49,112.99h1M161.63,113.15h1M159.12,113.96h1M162.14,114.83h1M159.76,114.92h1M159.19,115.71h1M163.39,115.22h1M157.53,115.23h1M160.22,116.23h1M159.71,116.7h1M161.75,116.06h1M158.13,117.1h1M156.66,117.04h1M160.75,118.06h1M160.68,118.7h1M158.71,119.27h1M157.45,119.32h1M159.73,119.47h1M163.28,120.36h1M159.99,120.25h1M162.13,120.02h1M160.35,121.59h1M161.63,121.85h1M158.48,121.47h1M160.36,122.75h1M158.55,122.62h1M157.44,122.5h1M157.82,123.39h1M160.46,123.53h1M161.76,123.53h1M155.61,123.22h1M164.83,124.3h1M161.43,124.62h1M162.33,124.29h1M165.21,124.84h1M160.49,125.69h1M157.83,125.4h1M155.29,125.92h1M160.73,126.07h1M158.75,126.51h1M165.32,126.52h1M161.05,127.08h1M160.61,127.15h1M159.83,127.39h1M159.67,127.56h1M160.93,128.44h1M157.14,128.58h1M155.17,128.17h1M161.94,128.67h1M158.35,129.45h1M160.03,129.58h1M162.57,129.63h1M160.9,129.66h1M164.73,129.21h1M162.75,130.96h1M163.81,130.56h1M162.99,130.26h1M159.97,130.81h1M156.21,130.06h1M161.89,131.8h1M162.13,131.03h1M153.94,131.16h1M161.85,131.32h1M161.54,131.26h1M159.18,131.64h1M164.17,132.94h1M161.69,132.38h1M160.67,132.82h1M165.09,132.19h1M162.74,132.5h1M160.34,133.92h1M162.39,133.67h1M161.46,133.24h1M163.16,133.29h1M157.16,133.98h1M158.85,133.67h1M158.78,134.49h1M158.01,134.06h1M160.9,134.53h1M162.15,134.37h1M163,134.33h1M163.8,135.18h1M155.95,135.5h1M160.78,135.57h1M162.45,135.24h1M164.97,135.08h1M162.58,135.86h1M161.18,136.84h1M160.66,136.62h1M155.96,136.72h1M161.51,136.05h1M159.35,136.16h1M166.5,136.04h1M161.82,136.38h1M163.01,137.05h1M157.59,137.92h1M162.58,137.04h1M162.33,137.19h1M162.05,137.11h1M164.7,137.17h1M158.08,137.17h1M160.19,138.57h1M158.31,138.51h1M162.93,138.04h1M161.73,138.62h1M163.25,138.01h1M158.35,138.89h1M159.3,138.54h1M162.75,138.94h1M162.94,139.37h1M161.54,139.71h1M160.36,139.28h1M160.83,139.29h1M155.7,139.7h1M161.98,139.92h1M163.53,139.85h1M165.62,140.11h1M160.23,140.87h1M154.98,140.36h1M156.26,140.9h1M169.27,140.58h1M153.85,140.84h1M162.43,140.66h1M160.43,140.4h1M161.05,141.13h1M159.81,141.63h1M159.06,141.28h1M164.48,141.19h1M166.3,141.45h1M154.03,141.26h1M160.19,141.37h1M159.05,141.85h1M160.79,142.56h1M160.98,142h1M159.73,142h1M163,142.99h1M165.23,142.64h1M162.75,142.23h1M159.86,142.48h1M155.04,142.94h1M159.62,142.42h1M163.65,143.74h1M160.2,143.46h1M159.29,143.78h1M162.11,143.97h1M164.86,143.16h1M159.23,143.04h1M161.87,143.73h1M157.27,143.57h1M153.86,143.06h1M155.42,144.04h1M162.33,144.68h1M162.71,144.55h1M158.59,144.11h1M163.06,144.64h1M161.24,144.03h1M164.32,144.16h1M162.35,144.13h1M162.15,144.6h1M158.4,144.12h1M163.82,145.73h1M158.31,145.58h1M157.23,145.86h1M153.46,145.29h1M158.59,145.77h1M158.36,145.01h1M160.56,145.48h1M165.05,145.51h1M162.42,145.51h1M161.51,146.68h1M161.61,146.99h1M158.46,146.46h1M161.95,146.51h1M158,146.92h1M158.09,146.48h1M163.02,146.36h1M163.92,147h1M161.81,146.08h1M161.95,146.68h1M162.37,147.6h1M158.49,147.76h1M161.82,147.37h1M161.05,147.89h1M161.4,147.89h1M162.07,147.48h1M162.18,147.89h1M165.23,147.75h1M162.76,147.21h1M160.14,147.45h1M160.32,148.34h1M161.23,148.14h1M159.47,148.04h1M154.33,148.65h1M162.21,148.79h1M165.02,148.21h1M162.14,148.47h1M162.8,148.3h1M159.88,148.64h1M167.69,148.07h1M157.41,149.32h1M165.59,149.72h1M157.76,149.04h1M163.49,149.5h1M164.03,149.95h1M160.99,149.86h1M164.95,149.32h1M160.75,149.17h1M155.64,149.34h1M159.28,149.42h1M156.16,149.46h1M163.84,150.1h1M166.18,150.5h1M158.96,150.64h1M163.26,150.18h1M159.66,150.97h1M159.95,150.7h1M156.85,150.6h1M157.41,150.61h1M164.18,150.88h1M160.36,150.65h1M158.41,150.37h1M162.61,151.35h1M164.26,151.35h1M156.27,151.68h1M157.52,151.84h1M163.99,151.25h1M165.6,151.32h1M164.39,151.92h1M159.83,151.3h1M162.08,151.14h1M162.03,151.64h1M160.14,151.25h1M163.15,152.23h1M158.91,152.47h1M160.14,152.2h1M164.27,152.28h1M165.53,152.73h1M161.87,152.8h1M161.58,152.33h1M162.51,152.08h1M160.55,152.79h1M160.66,152.45h1M160.64,152.6h1M161.79,153.35h1M156.33,153.97h1M166.7,153.87h1M165.16,153.57h1M165.19,153.09h1M162.19,153.56h1M161.83,153.41h1M165.26,153.16h1M160.8,153.9h1M161.25,153.96h1M156.34,153.47h1M163.23,154.67h1M164.39,154.41h1M159.88,154.52h1M156.16,154.57h1M161.69,154.79h1M159.74,154.15h1M165.42,154.05h1M168.01,154.31h1M156.91,154.44h1M161.93,154.28h1M157.92,154.78h1M166.56,155h1M166.74,155.55h1M164.8,155.07h1M161.55,155.27h1M156.66,155.67h1M158.84,155.41h1M160.75,155.46h1M160.33,155.26h1M159.64,155.14h1M156.79,155.2h1M160.14,155h1M159.63,156.84h1M162.4,156.83h1M163.5,156.98h1M166.08,156.82h1M161.49,156.94h1M162.67,156.16h1M166.93,156.23h1M156.78,156.47h1M159.57,156.13h1M163.03,156.65h1M161.64,156.72h1M157.53,157.47h1M156.19,157.37h1M162.49,157.71h1M159.36,157.33h1M160.3,157.05h1M160.52,157.39h1M161.72,157.08h1M167.02,157.43h1M158.81,157.03h1M159.11,157.32h1M163.18,157.14h1M159.54,158.84h1M162.49,158.11h1M161.31,158.02h1M158.65,158.72h1M162.97,158.79h1M162.17,158.32h1M160.85,158.77h1M158.23,158.45h1M155.2,158.36h1M162.13,158.26h1M165.09,158.81h1M158.88,159.94h1M163.35,159.17h1M160.98,159.8h1M159.9,159.12h1M164.57,159.84h1M163.17,159.68h1M168.05,159.87h1M163.73,159.51h1M161.96,159.29h1M165.35,159.42h1M159.49,159.82h1M160.74,160.25h1M158.02,160.23h1M164.43,160.06h1M162.21,160.55h1M158.52,160.4h1M159.98,160.02h1M159.08,160.67h1M164.5,160.38h1M163.81,160.27h1M162.01,160.3h1M164.93,160.11h1M161.82,160.02h1M157.22,161.36h1M162.55,161.02h1M162.07,161.1h1M156.89,161.49h1M161.15,161.34h1M157.1,161.79h1M165.42,161.84h1M157.74,161.67h1M156.74,161.46h1M160.19,161.53h1M161.82,161.82h1M160.26,162.62h1M162.04,162.6h1M160.54,162.48h1M163.06,162.38h1M160.48,162.56h1M161.22,162.14h1M157.19,162.74h1M161.43,162.31h1M160.86,162.22h1M165.4,162.73h1M157.06,162.28h1M161,163.71h1M159.95,163.93h1M164.94,163.53h1M161.95,163.34h1M167.1,163.1h1M155.9,163.12h1M160.4,163.45h1M166.16,163.11h1M157.89,163.33h1M163.19,163.44h1M168.46,163.6h1M158.26,163.91h1M161.28,164.23h1M164.92,164.64h1M154.98,164.61h1M169.69,164.31h1M163.11,164.02h1M162.41,164.73h1M163.57,164.84h1M161.8,164.24h1M163.28,164.79h1M159.55,164.1h1M166.47,164.97h1M160.2,165.75h1M158.47,165.77h1M161,165.53h1M158.98,165.66h1M165.49,165.15h1M161.75,165.97h1M163.53,165.96h1M166.98,165.95h1M158.22,165.85h1M159.95,165.82h1M160.62,165.73h1M161.7,165.84h1M160.31,166.73h1M169.34,166.49h1M154.73,166.45h1M158.52,166.68h1M156.67,166.37h1M167.82,166.64h1M164.19,166.72h1M158.94,166.8h1M161.72,166.45h1M159.62,166.68h1M160.68,166h1M161.25,166.4h1M163.62,167.42h1M165.55,167.7h1M158.53,167.02h1M156.92,167.87h1M157.7,167.61h1M160.49,167.35h1M162.3,167.66h1M158.04,167.05h1M154.4,167.67h1M164.26,167.61h1M153.14,167.81h1M160.63,167.99h1M161.35,168.64h1M158.74,168.86h1M159.1,168h1M154.2,168.83h1M154.23,168.59h1M162.66,168.85h1M150.88,168.46h1M160.79,168.9h1M161.5,168.33h1M164.6,168.35h1M161.03,168.27h1M163.58,168.69h1M162.87,169.12h1M155.79,169.6h1M164.05,169.34h1M162.62,169.98h1M165.15,169.23h1M158.9,169.01h1M168.06,169.29h1M158.56,169.49h1M160.81,169.53h1M159.58,169.07h1M163.47,169.82h1M159.82,169.77h1M156.87,170.74h1M165.07,170.06h1M165.35,170.84h1M161.54,170.99h1M159.25,170.57h1M159.78,170.62h1M160.11,170.97h1M160.09,170.51h1M170.72,170.38h1M159.93,170.07h1M158.91,170.22h1M159.1,171.61h1M165.79,171.91h1M167.11,171.99h1M156.3,171.25h1M165.03,171.82h1M163.63,171.08h1M162.91,171.1h1M160.67,171.72h1M167.27,171.53h1M161.27,171.06h1M162.9,171.89h1M157.61,171.45h1M165.28,172.7h1M162.26,172.93h1M165.29,172.68h1M164.88,172.7h1M161.84,172.33h1M156.81,172.41h1M160.79,172.53h1M164.01,172.89h1M161.67,172.35h1M158.02,172.19h1M166.76,172h1M159.96,172.98h1M161.81,173.06h1M162.18,173.61h1M163.99,173.62h1M160.47,173.23h1M161.74,173.22h1M161.91,173.49h1M155.61,173.42h1M167.41,173.31h1M159.71,173.83h1M160.93,173.03h1M162.02,173.61h1M160.48,173.7h1M164,174.69h1M156.51,174.24h1M168.66,174.16h1M159.72,174.92h1M164.36,174.54h1M162.3,174.91h1M160.98,174.07h1M162.23,174.88h1M164.04,174.35h1M162.84,174.2h1M157.55,174.43h1M157.94,174.1h1M155.51,175.06h1M163.49,175.26h1M161.41,175.82h1M164.68,175.79h1M157.3,175h1M159.87,175.71h1M160.46,175.95h1M159,175.2h1M160.43,175.48h1M165.51,175.09h1M160.34,175.69h1M161.82,175.12h1M163.77,176.85h1M159,176.98h1M160.07,176.17h1M153.27,176.21h1M162.28,176h1M162.31,176.8h1M159.63,176.61h1M161.54,176.64h1M164.33,176.14h1M164.69,176.64h1M162.15,176.8h1M159.66,177.14h1M168.03,177.49h1M162.51,177.68h1M153.83,177.81h1M161.85,177.83h1M162.12,177.83h1M159.07,177.35h1M161.64,177.06h1M157.47,177.99h1M155.1,177.29h1M164.17,177.97h1M167.01,177.76h1M156.12,178.62h1M157.57,178.06h1M153.79,178.51h1M160.17,178.15h1M160.78,178.46h1M155.86,178.08h1M164.43,178.74h1M157.78,178.85h1M162.28,178.06h1M158.16,178.79h1M159.83,178.15h1M162.9,178.46h1M161.98,179.42h1M163.5,179.14h1M157.2,179.87h1M162.79,179.55h1M163.63,179.84h1M158.4,179.58h1M157.49,179.05h1M155.36,179.2h1M164.06,179.94h1M161.26,179.59h1M162.37,179.56h1M163.42,179.41h1M160.35,180.02h1M163.76,180.03h1M154.89,180.15h1M159.06,180.02h1M160.16,180.61h1M161.29,180.91h1M158.58,180.61h1M161.49,180.29h1M158.72,180.87h1M163.77,180.68h1M159.37,180.95h1M161.11,180.58h1M166.24,181.11h1M159.4,181.04h1M159.72,181.1h1M164.93,181.78h1M165.78,181.27h1M167.17,181.36h1M158.72,181.83h1M155.02,181.98h1M156.52,181.62h1M159.86,181.58h1M164.32,181.57h1M157.08,181.25h1M156.07,182.23h1M158.92,182.03h1M164.05,182.85h1M156.75,182.55h1M160.84,182.55h1M157.33,182.68h1M159.82,182.24h1M154.76,182.12h1M163.99,182.95h1M157.69,182.29h1M159.5,182.45h1M163.47,183.79h1M162.62,183.28h1M161.85,183.2h1M162.67,183.52h1M158.49,183.17h1M157.78,183.62h1M159.2,183.48h1M159.52,183.46h1M162.57,183.69h1M166.77,183.59h1M158.18,183.97h1M158.51,183.77h1M156.33,184.37h1M163.66,184.72h1M170.62,184.19h1M158.63,184.5h1M158.96,185h1M159.06,184.09h1M156.83,184.02h1M158.44,184.62h1M156.23,184.78h1M163.57,184.6h1M156.57,184.63h1M159.88,185.09h1M160.36,185.67h1M157.95,185.97h1M163.43,185.48h1M164.91,185.36h1M163.01,185.17h1M160.03,185.71h1M149.94,185.17h1M160.16,185.09h1M170.75,185.86h1M161.75,185.91h1M159.44,186.64h1M161.91,186.36h1M162.55,186.44h1M160.18,186.54h1M155.7,186.47h1M159.44,186.6h1M165.81,186.32h1M160.11,186.27h1M162.11,186.55h1M160.63,186.65h1M160.93,186.49h1M163.36,187.44h1M159.24,187.42h1M159.81,187.62h1M163.15,187.47h1M155.52,187.24h1M158.48,187.98h1M160.53,187.25h1M156.66,187.71h1M163.41,187.26h1M160.8,187.86h1M168.25,187.44h1M157.19,188.58h1M160.81,188.56h1M161.36,188.95h1M159.94,188.99h1M167.36,188.02h1M163.47,188.28h1M163.2,188.03h1M164.98,188.84h1M161.7,188.02h1M161.89,188.05h1M152.49,188.32h1M161.95,189.85h1M165.74,189.59h1M158.72,189.24h1M159.81,189.37h1M161.65,189.92h1M162.65,189.48h1M165.2,189.81h1M160.16,189.27h1M160.66,189.24h1M156.25,189.19h1M161.27,190.69h1M161.51,190.59h1M150.24,190.33h1M157.55,191h1M162.57,190.18h1M160.48,190.08h1M160.19,190.03h1M159.28,190.08h1M160.85,190.26h1M159.64,190.77h1M162.09,190.68h1M157.48,191.62h1M162.89,191.7h1M162.03,191.84h1M158.96,191.78h1M164.26,191.1h1M164.38,191.18h1M159.73,191.56h1M169.42,191.43h1M164.97,191.82h1M160.19,191.77h1M165.01,192.4h1M164.98,192.92h1M159.78,192.69h1M165.26,192.36h1M161.53,192.39h1M161.08,192.48h1M164.8,192.51h1M165.87,192.25h1M161.53,192.4h1M166.06,192.43h1M162.38,193.43h1M157.27,193.11h1M161.43,193.49h1M164.35,193.95h1M161.34,193.48h1M159.51,193.63h1M161.79,193.12h1M163.22,193.02h1M164.66,193.91h1M160.76,193.01h1M167.06,194.66h1M163.12,194.07h1M162.53,194.23h1M155.78,194.23h1M162.93,194.51h1M157.1,194.53h1M163.49,194.18h1M162.4,194.52h1M156.81,194.6h1M162.69,194.56h1M139.74,125.69h1M140.74,126.66h1M138.35,127.61h1M140.3,128.24h1M142.7,129.7h1M139.85,130.45h1M141.29,131.63h1M137.85,133.45h1M142.21,134.83h1M138.36,134.42h1M140.04,135.01h1M141.91,136.9h1M141.51,136.97h1M139.05,137.88h1M139.27,137.07h1M146.59,138.82h1M139.83,139.18h1M140.88,140.5h1M139.99,140.82h1M144.57,141.26h1M137.94,141.06h1M139.2,142.42h1M136,143.72h1M138.59,144.29h1M135.48,144.55h1M136.94,145.05h1M142.01,146.47h1M145.14,147.85h1M137.72,148.26h1M141.25,149.58h1M140.66,149.15h1M142.05,150.53h1M135.74,150.74h1M144.1,151.66h1M137.44,152.9h1M145.05,152.24h1M142.58,153.68h1M144.74,154.39h1M139.18,154.38h1M142.89,155.4h1M141.3,155.09h1M137.89,156.43h1M138.9,157.88h1M134.95,158.93h1M143,159.59h1M141.6,160.62h1M143.19,161.75h1M141.8,161.48h1M143.03,162.63h1M143.92,163.62h1M143.51,163.41h1M139.39,164.31h1M140.44,165.35h1M144.04,166.94h1M139.61,167.33h1M136.65,167.69h1M142.04,168.09h1M140.77,169.18h1M143.89,170.11h1M140.74,171.16h1M141.6,172.73h1M140.91,172.49h1M136.21,173.78h1M139.89,174.03h1M140.71,175.39h1M138.64,176.54h1M146.9,177.07h1M136.93,178.54h1M137.94,179.6h1M140.16,180.44h1M139.43,181.04h1M141.36,182.48h1M137.1,183.78h1M139.43,184h1M146.31,185.04h1M138.09,186.94h1M142.5,187.68h1M141.85,188.41h1M138.36,189.34h1M137.73,190.43h1M139.86,191.06h1M144.91,192.48h1M140.67,194.73h1M123.64,173.57h1M137.68,160.89h1M163.54,176.41h1M150.41,185.64h1M166.2,190.14h1M135.44,162.77h1M151.57,183.09h1M166.04,177.16h1M145.8,177.88h1M146.43,166.91h1M155.94,187.81h1M149.23,181.53h1M152,189.07h1M148.26,193.32h1M146.66,166.37h1M140.11,165.8h1M151.66,169.34h1M154.89,161.44h1M158.44,182.59h1M148.1,193.31h1M145.05,174.82h1M128.05,182.72h1M159.12,176.3h1M151.96,170.79h1M134.24,162.44h1M150.25,181.01h1M134.15,164.1h1M152.06,187.92h1M145.47,181.76h1M149.46,172.77h1" stroke="#e8815e" stroke-width="1" fill="none"/>
<path d="M158.61,106.04h1M158.02,107.85h1M157.93,108.84h1M161.49,111.75h1M159.71,112.96h1M159.06,113.16h1M154.29,114.08h1M163.08,115.97h1M157.39,116.74h1M159.87,117.83h1M155.84,118.46h1M160.69,119.64h1M155.46,120.27h1M159.24,121.88h1M160.35,122.62h1M158.8,123.56h1M154.17,124.67h1M160.28,124.44h1M162.35,125.73h1M159.24,125.55h1M160.77,126.75h1M162.29,127.79h1M160.82,128.3h1M159.93,128.82h1M160.33,129.05h1M156.13,129.03h1M156.9,130.07h1M156.89,130.56h1M159.37,131.16h1M156.73,131.48h1M163.21,132.28h1M159.51,132.61h1M165.56,133.59h1M161.13,133.74h1M155.73,134.99h1M158.09,134.79h1M161.97,135.13h1M164.05,135.18h1M162.72,136.92h1M156.7,136.81h1M159.22,137.05h1M161.92,137.11h1M157.71,138.98h1M160.47,138.38h1M156.01,138.97h1M159.4,139.47h1M159.25,139.92h1M159.25,139.34h1M158.58,140.09h1M167.38,140.79h1M157.05,140.53h1M153.6,141.78h1M159.63,141.63h1M160.86,141.57h1M161.69,142.43h1M161.01,142.29h1M159.59,142.76h1M162.19,143.1h1M158.73,143.59h1M157.2,143.58h1M161.95,144.7h1M154.49,144.37h1M155.94,144.08h1M164.61,145.35h1M157.83,145.2h1M158.56,146.01h1M159.83,146.14h1M161.11,147.54h1M164.74,147.31h1M162.18,148.05h1M156.57,148.17h1M166.83,149.63h1M164.63,149.22h1M163.7,149.41h1M161.83,150.19h1M154.87,150.18h1M158.45,151.22h1M160.08,151.6h1M160.91,151.69h1M161.64,152.81h1M157.96,152.31h1M156.64,153.62h1M156.6,153.23h1M164.76,154.08h1M161.83,154.09h1M162.14,154.88h1M159.51,155.62h1M157.36,155.01h1M162.51,156.07h1M164.25,156.24h1M160.53,156.48h1M163.53,157.92h1M157.09,157.8h1M160.2,157.35h1M153.34,158.74h1M161.97,158.35h1M163.68,158.11h1M153,159.25h1M160.21,159.6h1M157.84,160.73h1M154.08,160.69h1M157.48,161.59h1M155.91,161.53h1M161.85,162.3h1M164.47,162.31h1M162.87,163.64h1M160.19,163.62h1M158.26,164.68h1M160.53,164.69h1M164.8,164.97h1M163.2,165.61h1M148.1,165.51h1M159.67,166.43h1M156.57,166.81h1M153.85,167.07h1M161.03,167.21h1M167.65,168.23h1M165.2,168.49h1M156.04,169.89h1M169.14,169.92h1M165.94,169.29h1M159.28,170.75h1M163.61,170.91h1M162.03,170.79h1M159.97,171.74h1M159.73,171.96h1M156.95,171.1h1M156.96,172.26h1M158.69,172.15h1M157.27,172.09h1M153.27,173.51h1M156.97,173.98h1M164.2,173.81h1M161.31,174.87h1M153.56,174.34h1M161.65,174.49h1M159.74,175.64h1M161.89,175.95h1M162.46,175.46h1M159.56,176.56h1M159.14,176.2h1M161.85,177.72h1M161.3,177.31h1M159.02,177.41h1M162.55,178.65h1M154,178.95h1M153.25,178.13h1M163.61,179.36h1M155.63,179.61h1M162.55,179.91h1M159.7,180.09h1M161.41,180.56h1M166.84,180.36h1M162.73,181.89h1M162.76,181.52h1M161.29,181.06h1M153.61,182.62h1M158.49,182.13h1M160,182.28h1M154.78,183.54h1M152.26,183.34h1M162.16,183.35h1M167.22,184.21h1M153.16,184.19h1M164.32,184.44h1M157.49,185.47h1M158.76,185.41h1M164.52,185.72h1M162.82,186.29h1M162.23,186.34h1M165.8,186.04h1M163.9,187.26h1M167.95,187.69h1M162.32,187.89h1M162.53,188.51h1M164.85,188.83h1M152.93,188.02h1M159.99,189.34h1M160.65,189.35h1M162.56,189.13h1M158.28,190.17h1M164.08,190.85h1M163.54,190.22h1M158.85,191.99h1M153.39,191.36h1M166.64,191.98h1M159.1,192.05h1M151.62,192.54h1M161.24,193h1M166.61,193.24h1M159.88,193.04h1M168.18,193.21h1M158.44,194.66h1M163.97,194.02h1M159.03,194.77h1" stroke="#f3b9a3" stroke-width="1" fill="none"/>
<path d="M150.3,135 149.3,143 147.3,148 145.5,152 144.9,158 144.7,165 144,180 143,188 142,195.2 162.9,195.2 162.1,188 161.6,180 161.3,175 160.7,165 159.3,158 156.5,150 155.3,143 154.7,135Z" fill="#747474"/>
<path d="M152.47,103.85h1.05M152.6,104.05h1.05M152.94,105h1.05M152.17,106.06h1.05M152.24,107.77h1.05M152.43,108.58h1.05M151.72,109.38h1.05M152.05,110.99h1.05M152.99,111.75h1.05M152.66,112.17h1.05M152.82,113.88h1.05M152.88,114.36h1.05M151.79,115.72h1.05M152,116.82h1.05M152.36,116.78h1.05M152.12,117.71h1.05M153.23,117.22h1.05M152.32,118.71h1.05M151.29,118.33h1.05M152.55,119.72h1.05M150.83,119.71h1.05M152.48,119.63h1.05M151.74,120.19h1.05M152.42,120.5h1.05M153.18,121.99h1.05M151.49,121.98h1.05M152.12,121.73h1.05M151.85,122.49h1.05M152.66,122.11h1.05M151.76,122.24h1.05M151.24,123.54h1.05M153.58,123.63h1.05M152.25,123.43h1.05M152.31,123.69h1.05M151.36,124.49h1.05M152.09,124.91h1.05M152.27,124.06h1.05M153.41,124.32h1.05M151.73,125.43h1.05M153.35,125.1h1.05M151.95,125.56h1.05M151.41,125.73h1.05M151.85,125.35h1.05M151.83,126.56h1.05M151.88,126.61h1.05M152.15,126.54h1.05M152.02,126.87h1.05M152.64,126.62h1.05M153.14,127.1h1.05M152.62,127.88h1.05M150.63,127.77h1.05M151.17,127.85h1.05M150.41,127.27h1.05M153.63,127.94h1.05M151.86,128.63h1.05M152.4,128.33h1.05M151.21,128.23h1.05M151.13,128.63h1.05M152.67,128.91h1.05M152.08,128.1h1.05M150.45,129.91h1.05M152.39,129.18h1.05M152.29,129.35h1.05M151.33,129.73h1.05M151.94,129.6h1.05M151.88,129.36h1.05M151.53,129.98h1.05M152.59,130.59h1.05M150.71,130.7h1.05M152.18,130.39h1.05M151.87,130.27h1.05M152.71,130.69h1.05M152.89,130.09h1.05M152.81,130.99h1.05M152,131.67h1.05M151.35,131.51h1.05M151.78,131.02h1.05M152,131.12h1.05M151.39,131.12h1.05M152.97,131.22h1.05M153.8,131.08h1.05M153.72,131.98h1.05M152.47,131.91h1.05M152.55,132.02h1.05M150.43,132.15h1.05M149.86,132.93h1.05M151.32,132.84h1.05M153.56,132.94h1.05M153.75,132.9h1.05M151.7,132.79h1.05M150.82,132.7h1.05M152.65,132.93h1.05M149.94,133.03h1.05M152.71,133.71h1.05M153.66,133.48h1.05M151.27,133.22h1.05M152.09,133.7h1.05M151.91,133.94h1.05M152.1,133.43h1.05M151.86,133.32h1.05M152.32,133.3h1.05M153.55,133.8h1.05M152.45,133.65h1.05M151.69,134.4h1.05M151.74,134.79h1.05M148.57,134.87h1.05M151.85,134.53h1.05M149.93,134.52h1.05M153.27,134.68h1.05M150.31,134.16h1.05M151.44,134.03h1.05M150,134.19h1.05M152.02,134.85h1.05M151.32,134.15h1.05M151.52,134.66h1.05M151.5,135.22h1.05M152.53,135.83h1.05M151.78,135.7h1.05M153.06,135.55h1.05M151.34,135.41h1.05M152.56,135.23h1.05M151.14,135.91h1.05M152.15,135.03h1.05M151.83,135.72h1.05M151.3,135.95h1.05M153.37,135.41h1.05M152.69,135.07h1.05M150.76,136.04h1.05M152.23,136.16h1.05M154.14,136.02h1.05M151.1,136.02h1.05M152.77,136.85h1.05M152.08,136.86h1.05M153.92,136.36h1.05M151.7,136.77h1.05M151.56,136.47h1.05M150.47,136.42h1.05M152.34,136.69h1.05M149.72,136.4h1.05M151.67,136.68h1.05M151.51,137.14h1.05M154.94,137.39h1.05M153.8,137.88h1.05M151.5,137.37h1.05M148.86,137.75h1.05M151.89,137.5h1.05M151.23,137.64h1.05M150.32,137.18h1.05M150.24,137.57h1.05M152.74,137.77h1.05M151.27,137.21h1.05M152.62,137.96h1.05M148.88,137.49h1.05M152.92,137.78h1.05M151.28,137.86h1.05M151.89,138.08h1.05M150.51,138.4h1.05M152.34,138.98h1.05M152.31,138.53h1.05M152.59,138.68h1.05M150.64,138.52h1.05M152.7,138.41h1.05M151.56,138.68h1.05M151.68,138.5h1.05M150.66,138.25h1.05M151.19,138.76h1.05M151.81,138.96h1.05M150.13,138.51h1.05M151.8,138.11h1.05M151.06,138.38h1.05M151.66,138.58h1.05M154.5,139.97h1.05M150.74,139.02h1.05M152.13,139.57h1.05M149.24,139.65h1.05M150.18,139.44h1.05M151.87,139.37h1.05M150.2,139.27h1.05M151.95,139.92h1.05M152.39,139.54h1.05M153.36,139.91h1.05M149.95,139.61h1.05M151.67,139.51h1.05M152.64,139.44h1.05M148.36,139.83h1.05M150.63,139.8h1.05M150.72,139.54h1.05M150.89,140.83h1.05M153.93,140.18h1.05M150.37,140.36h1.05M149.55,140.74h1.05M153.09,140.5h1.05M154.99,140.63h1.05M150.15,140.48h1.05M151.3,140.39h1.05M149.39,140.1h1.05M151.4,140.51h1.05M154.26,140.17h1.05M151.83,140.3h1.05M153.23,140.57h1.05M150.3,140.86h1.05M149.95,140.76h1.05M149.63,140.39h1.05M152.94,141.75h1.05M152.3,141.92h1.05M151.39,141.92h1.05M153.48,141.22h1.05M153.59,141.35h1.05M150.14,141.18h1.05M150.46,141.54h1.05M149.57,141.51h1.05M149.79,141.72h1.05M152.75,141.71h1.05M150.08,141.64h1.05M153.5,141.11h1.05M152.77,141.68h1.05M153.22,141.23h1.05M151.46,141.49h1.05M152.82,141.47h1.05M151.64,141.25h1.05M150.78,141.63h1.05M153.06,142.92h1.05M150.61,142.44h1.05M151.16,142.94h1.05M151.59,142.11h1.05M151.17,142.53h1.05M153.64,142.33h1.05M151.21,142.84h1.05M152.27,142.03h1.05M157.06,142.37h1.05M151.7,142.04h1.05M153.51,142.53h1.05M151.11,142.38h1.05M153.72,142.47h1.05M149.45,142.18h1.05M151.53,142.57h1.05M150.61,142.74h1.05M152.16,142.94h1.05M151.18,142.12h1.05M153.59,143.21h1.05M151.02,143.86h1.05M153.98,143.61h1.05M150.88,143.13h1.05M152.19,143.54h1.05M154.44,143.73h1.05M148.3,143.11h1.05M150.88,143.46h1.05M150.23,143.94h1.05M152.25,143.49h1.05M151.27,143.39h1.05M152.91,143.7h1.05M149.93,143.86h1.05M149.29,143.76h1.05M153.28,143.52h1.05M154.65,143.11h1.05M149.67,143.89h1.05M151.86,143.24h1.05M151.11,144.3h1.05M149.79,144.51h1.05M153.35,144.43h1.05M150.78,144.76h1.05M150.31,144.2h1.05M150.69,144.24h1.05M153.52,144.5h1.05M153.2,144.76h1.05M151.49,144.3h1.05M154.49,144.52h1.05M151.78,144.04h1.05M149.99,144.59h1.05M150.64,144.99h1.05M152.6,144.31h1.05M151.76,144.24h1.05M151.54,144.74h1.05M149.8,144.88h1.05M152.01,144.16h1.05M154.23,144.53h1.05M150.11,144.79h1.05M155.84,145.69h1.05M152.2,145.57h1.05M154.22,145.94h1.05M150.66,145.02h1.05M153.15,145.25h1.05M150.86,145.77h1.05M150.62,145.7h1.05M151.93,145.88h1.05M151.71,145.6h1.05M149.14,145.88h1.05M150.76,145.41h1.05M154,145.57h1.05M150.04,145.75h1.05M154.27,145.47h1.05M149.1,145.51h1.05M149.7,145.3h1.05M157.19,145.64h1.05M149.31,145.07h1.05M151.25,145.6h1.05M153.57,145.28h1.05M150.16,145.83h1.05M148.69,146.89h1.05M150.61,146.43h1.05M148.83,146.94h1.05M150.35,146.36h1.05M151.12,146.46h1.05M153.88,146.26h1.05M151.08,146.08h1.05M151.83,146.66h1.05M153.08,146.09h1.05M150.32,146.27h1.05M150.49,146.55h1.05M154.96,146.3h1.05M152.18,146.92h1.05M151.63,146.88h1.05M151.16,146.69h1.05M154.69,146.36h1.05M150.99,146.51h1.05M154.24,146.65h1.05M151.32,146.85h1.05M154.39,146.57h1.05M146.91,146.87h1.05M152,146.92h1.05M146.45,146.41h1.05M154.88,147.53h1.05M149,147.78h1.05M149.53,147.66h1.05M151.09,147.26h1.05M151.54,147.72h1.05M150.75,147.82h1.05M144.88,147.76h1.05M148.95,147.11h1.05M156.25,147.11h1.05M151.71,147.88h1.05M150.01,147.21h1.05M150.98,147.73h1.05M150.83,147.53h1.05M153.21,147.19h1.05M148.99,147.01h1.05M156.57,147.4h1.05M151.66,147.89h1.05M157.03,147.72h1.05M151.4,147.26h1.05M151.58,147.65h1.05M148.23,147.12h1.05M151.17,147.25h1.05M150.08,147.38h1.05M150.15,147.93h1.05M152,148.35h1.05M148.01,148.79h1.05M154.81,148.83h1.05M148.54,148.18h1.05M150.4,148.12h1.05M149.28,148.91h1.05M154.16,148.06h1.05M155.07,148.95h1.05M150.72,148.13h1.05M148.36,148.66h1.05M151.77,148.22h1.05M153.16,148.15h1.05M148.31,148.75h1.05M148.57,148.74h1.05M153.09,148.3h1.05M147.13,148.65h1.05M153.1,148.29h1.05M151.83,148.38h1.05M151.56,148.21h1.05M148.98,148.02h1.05M152.35,148.88h1.05M152.34,148.04h1.05M151.1,148.83h1.05M151.3,148.36h1.05M154.72,148.36h1.05M149.2,149.13h1.05M147.15,149.99h1.05M151.36,149.25h1.05M148.59,149.52h1.05M145.94,149.28h1.05M154.24,149.25h1.05M153.57,149.42h1.05M149.44,149.81h1.05M148.52,149.53h1.05M154.58,149.65h1.05M152.26,149.38h1.05M151.05,149.85h1.05M150.3,149.72h1.05M148.08,149.75h1.05M148.45,149.04h1.05M146.28,149.41h1.05M149.99,149.74h1.05M148.04,149.77h1.05M153.47,149.48h1.05M153.33,149.75h1.05M146.05,149.16h1.05M152.3,149.01h1.05M149.53,149.86h1.05M153.14,149.7h1.05M150.69,149.57h1.05M152.6,149.42h1.05M155.39,149.89h1.05M150.78,150.69h1.05M151.78,150.91h1.05M152.29,150.84h1.05M148.04,150.02h1.05M150.51,150.92h1.05M151.09,150.62h1.05M151.96,150.47h1.05M147.21,150.55h1.05M151.7,150.06h1.05M152.07,150.36h1.05M148.84,150.19h1.05M156.3,150.18h1.05M148.74,150.41h1.05M146.9,150.33h1.05M155.31,150.91h1.05M153.61,150.95h1.05M147.52,150.12h1.05M153.26,150.94h1.05M155.02,150.36h1.05M149.72,150.04h1.05M149.08,150.89h1.05M149.4,150.18h1.05M148.25,150.05h1.05M149.12,150.28h1.05M155.55,150.77h1.05M151.93,150.94h1.05M152.63,150.37h1.05M152.23,150.32h1.05M155.82,151.54h1.05M149.88,151.13h1.05M153.23,151.46h1.05M150.59,151.94h1.05M147.63,151.99h1.05M152.53,151.25h1.05M154.92,151.77h1.05M145.95,151.72h1.05M150.66,151.33h1.05M150.54,151.95h1.05M145.36,151.54h1.05M143.46,151.92h1.05M152.31,151.44h1.05M149.35,151.95h1.05M154.25,151.56h1.05M154.18,151.55h1.05M145.91,151.18h1.05M147.79,151.71h1.05M150.37,151.12h1.05M155.8,151.91h1.05M150.53,151.57h1.05M149.69,151.08h1.05M153.35,151.09h1.05M148.75,151.38h1.05M153.24,151.07h1.05M154.61,151.13h1.05M149.7,151.23h1.05M148.56,151.45h1.05M153.56,151.18h1.05M154.82,151.74h1.05M149.1,151.96h1.05M145.85,152.54h1.05M150.13,152.37h1.05M145.06,152.08h1.05M152.61,152.67h1.05M151.29,152.04h1.05M149.92,152.52h1.05M150.09,152.18h1.05M153.08,152.62h1.05M153.73,152.71h1.05M148.24,152.06h1.05M152.3,152.04h1.05M151.7,152.18h1.05M154.57,152.3h1.05M156,152.36h1.05M151.27,152.48h1.05M148.81,152.5h1.05M143.34,152.04h1.05M151.54,152.57h1.05M148.24,152.3h1.05M147.95,152.5h1.05M149.16,152.64h1.05M144.14,152.98h1.05M152.66,152.96h1.05M146.22,152.8h1.05M152.86,152.19h1.05M156.79,152.44h1.05M150.77,152.02h1.05M149.07,152.27h1.05M153.1,152.92h1.05M156.52,152.27h1.05M147.73,152.79h1.05M153.68,152.68h1.05M149.98,153.21h1.05M149.15,153.24h1.05M152.96,153.78h1.05M153.82,153.11h1.05M152.4,153.58h1.05M153.81,153.98h1.05M150.08,153.45h1.05M150.95,153.26h1.05M149.52,153.11h1.05M149.61,153.18h1.05M150.66,153.14h1.05M146.04,153.29h1.05M150.25,153.31h1.05M155.16,153.57h1.05M153.66,153.13h1.05M154.85,153.28h1.05M151.64,153.67h1.05M152.32,153.07h1.05M150.3,153.86h1.05M150.8,153.36h1.05M152.2,153.63h1.05M157.22,153h1.05M149,153.53h1.05M149.96,153.99h1.05M154.82,153.55h1.05M155.11,153.03h1.05M153.41,153.68h1.05M146.79,153.02h1.05M154.12,153.06h1.05M145.2,153.27h1.05M151.58,153.93h1.05M149.46,153.89h1.05M149.9,153.01h1.05M153.21,154.5h1.05M153.42,154.05h1.05M150.56,154.68h1.05M154.97,154.35h1.05M148.85,154.5h1.05M147.53,154.76h1.05M149.62,154.17h1.05M148.37,154.8h1.05M148.25,154.99h1.05M150.96,154.46h1.05M148.99,154.36h1.05M150.44,154.63h1.05M162.76,154.99h1.05M150.54,154.65h1.05M148.34,154.77h1.05M146.7,154.86h1.05M152.22,154.65h1.05M153.2,154.25h1.05M151.71,154.53h1.05M152.78,154.64h1.05M148.9,154.17h1.05M152.48,154.42h1.05M153.39,154.49h1.05M152.78,154.68h1.05M152.41,154.47h1.05M153.38,154.52h1.05M155.67,154.56h1.05M155.79,154.96h1.05M149.67,154.09h1.05M150.7,154.52h1.05M153.88,154.08h1.05M149.52,154.69h1.05M148.74,154.23h1.05M145.96,154.99h1.05M149.38,155.94h1.05M149.44,155.72h1.05M151.1,155.44h1.05M152.76,155.02h1.05M157.31,155.11h1.05M146.05,155.21h1.05M159.14,155.16h1.05M150.12,155.42h1.05M150.98,155.56h1.05M149.85,155.07h1.05M154.09,156h1.05M150.22,155.44h1.05M154.28,155.3h1.05M148.97,155.16h1.05M156.27,155.35h1.05M157.37,155.23h1.05M152.72,155.3h1.05M156.71,155.27h1.05M143.42,155.55h1.05M154.35,155.07h1.05M145.95,155.02h1.05M153.29,155.29h1.05M147.67,155.18h1.05M151.74,155.98h1.05M153.42,155.69h1.05M151.01,155.99h1.05M150.5,155.02h1.05M146.55,155.21h1.05M143.33,155.12h1.05M150.8,155.67h1.05M150.41,155.9h1.05M146.69,155.31h1.05M155.75,155.54h1.05M155.91,155.63h1.05M152.99,155.15h1.05M148.14,156.77h1.05M147.01,156.98h1.05M150.58,156.83h1.05M147.89,156.01h1.05M152.34,157h1.05M151.76,156.59h1.05M148.92,156.99h1.05M152.19,156.02h1.05M149.08,156.16h1.05M153.95,156.27h1.05M161.64,156.88h1.05M151.28,156.2h1.05M153.46,156.7h1.05M154.88,156.5h1.05M151.88,156.32h1.05M148.76,156.8h1.05M150.3,156.77h1.05M150.25,156.12h1.05M153.99,156.81h1.05M150.62,156.67h1.05M152.69,156.76h1.05M149.85,156.2h1.05M150.1,156.06h1.05M148.04,156.7h1.05M149.41,156.16h1.05M149.05,156.44h1.05M153.64,156.59h1.05M150.58,156.78h1.05M153.87,156.05h1.05M156.49,156.08h1.05M153.33,156.84h1.05M149.64,156.71h1.05M155.64,156.65h1.05M150.72,156.37h1.05M150.45,156.88h1.05M159.52,156.36h1.05M151.55,157.84h1.05M149,157.66h1.05M147.48,157.99h1.05M154.33,157.66h1.05M148.55,157.72h1.05M153.83,157.18h1.05M148.2,157.63h1.05M157.36,157.04h1.05M155.58,157.76h1.05M157.99,157.82h1.05M153.59,157.36h1.05M152.99,157.21h1.05M151.74,157.98h1.05M150.66,157.01h1.05M146.78,157.56h1.05M152.82,157.84h1.05M158.14,157.84h1.05M159.02,157.46h1.05M153.1,157.47h1.05M153.75,157.19h1.05M148.6,157.28h1.05M150.64,157.27h1.05M159.1,157.11h1.05M155.01,157.44h1.05M158.95,157.45h1.05M159.52,157.01h1.05M154.5,157.78h1.05M152.3,157.49h1.05M150.04,157.46h1.05M146.67,157.7h1.05M150.63,157.07h1.05M154.41,157.48h1.05M153.02,157.42h1.05M152.71,157.06h1.05M145.5,157.05h1.05M143.56,157.59h1.05M148.01,157.2h1.05M148.61,158.8h1.05M151.16,158.26h1.05M152.71,158.24h1.05M145.25,158.92h1.05M152.41,158.49h1.05M148.7,158.27h1.05M155.31,158.31h1.05M155.44,158.52h1.05M152.19,158.12h1.05M143.04,158.48h1.05M149.93,158.87h1.05M148.47,158.89h1.05M152.7,158.85h1.05M150.55,158.12h1.05M152.54,158.81h1.05M153.84,158.75h1.05M150.44,158.84h1.05M147.47,158.7h1.05M150.39,158.81h1.05M160.06,158.47h1.05M148.58,158.37h1.05M143.89,158.54h1.05M155.21,158.85h1.05M149.25,158.4h1.05M154.12,158.66h1.05M148.1,158.67h1.05M148.27,158.67h1.05M145.56,158.01h1.05M152.4,158.73h1.05M152.95,158.81h1.05M160.5,158.97h1.05M152.7,158.62h1.05M149.21,158.19h1.05M143.4,158.22h1.05M149.82,158.35h1.05M152.15,158.93h1.05M150.53,158.03h1.05M144.71,159h1.05M151.58,158.86h1.05M157.87,159.02h1.05M144.76,159.4h1.05M161.13,159.66h1.05M152.35,159.61h1.05M150.24,159.98h1.05M148.16,159.18h1.05M154.93,159.51h1.05M147.94,159.54h1.05M153.44,159.22h1.05M154.02,159.3h1.05M154.64,159.47h1.05M150.52,159.23h1.05M154.38,159.74h1.05M150.54,159.3h1.05M153.3,159.41h1.05M152.32,159.55h1.05M152.41,159.25h1.05M158.87,159.48h1.05M147.98,159.56h1.05M146.18,159.92h1.05M156.68,159.97h1.05M155.92,159.02h1.05M151.58,159.12h1.05M153.77,159.15h1.05M154.35,159.23h1.05M145.15,159.5h1.05M151.59,159.55h1.05M146.3,159.08h1.05M152.98,159.46h1.05M155.98,159.98h1.05M149.33,159.2h1.05M156.41,159.66h1.05M147.94,159.31h1.05M154.55,159.93h1.05M155.61,159.05h1.05M148.41,159.92h1.05M151.15,159.39h1.05M150.96,159.22h1.05M149.34,159.65h1.05M156.06,160.56h1.05M148.9,160.67h1.05M150.53,160.99h1.05M155.98,160.38h1.05M152.38,160.41h1.05M150.33,160.21h1.05M152.44,160.94h1.05M150.58,160.52h1.05M156.73,160.59h1.05M153.38,160.39h1.05M147.57,160.92h1.05M150.89,160.77h1.05M149.48,160.7h1.05M152.22,160.98h1.05M150.62,160.28h1.05M147.43,160h1.05M144.45,160.69h1.05M145.4,160.66h1.05M150.02,160.55h1.05M154.3,160.8h1.05M155.55,160.63h1.05M143.4,160.07h1.05M148.3,160.09h1.05M150.09,160.73h1.05M143.37,160.97h1.05M147.98,160.64h1.05M149.09,160.44h1.05M147.93,160.6h1.05M157.94,160.55h1.05M145.39,160.43h1.05M151.14,160.84h1.05M150.97,160.82h1.05M148.8,160h1.05M155.92,160.12h1.05M154.19,160.08h1.05M151.91,160.47h1.05M147.37,160.87h1.05M148.57,160.36h1.05M152.05,160.13h1.05M153.88,161.12h1.05M154.56,161.73h1.05M152.46,161.98h1.05M154.83,161.97h1.05M156.31,161.58h1.05M136.98,161.66h1.05M160.48,161.25h1.05M150.84,161h1.05M150.05,161.97h1.05M149.43,161.47h1.05M152.48,161.3h1.05M147.72,161.09h1.05M150.59,161.89h1.05M154.06,161.7h1.05M148.3,161.13h1.05M149.09,161.12h1.05M151.35,161.95h1.05M150.52,161.9h1.05M154.96,161.64h1.05M145.47,161.17h1.05M155.36,161.31h1.05M158.48,161.95h1.05M146.15,161.57h1.05M142.09,161.52h1.05M149.51,161.44h1.05M163.65,161.12h1.05M152.4,161.19h1.05M151.06,161.2h1.05M152.17,161.53h1.05M155.88,161.03h1.05M154.87,161.67h1.05M153.37,161.1h1.05M152.9,161.7h1.05M156.96,161.03h1.05M146.9,161.57h1.05M159.36,161.19h1.05M152.83,161.3h1.05M150.76,161.49h1.05M151.2,161.49h1.05M154.25,161.5h1.05M151.01,162.01h1.05M155.88,162.26h1.05M146.98,162.71h1.05M154.82,162.59h1.05M156.8,162.71h1.05M149.69,162.69h1.05M158.95,162.56h1.05M155.57,162.53h1.05M151.7,162.04h1.05M146.99,162.95h1.05M143.18,162.42h1.05M153.52,162.93h1.05M147.75,162.77h1.05M153.43,162.74h1.05M145.64,162.9h1.05M153.62,162.56h1.05M152.68,162.55h1.05M155.23,162.26h1.05M154.82,162.98h1.05M152.39,162.2h1.05M150.21,162.82h1.05M148.76,162.11h1.05M151.79,162.67h1.05M145.93,162.71h1.05M159.23,162.6h1.05M153.3,162.87h1.05M143.03,162.17h1.05M159.96,162.98h1.05M153.27,162.82h1.05M149.88,162.88h1.05M154.76,162.82h1.05M160.68,162.81h1.05M153.4,162.92h1.05M150.82,162.17h1.05M153.71,162.81h1.05M155.34,162.79h1.05M148.44,162.83h1.05M154.46,162.7h1.05M149.24,163h1.05M149.14,162.24h1.05M146.82,162.19h1.05M147.65,163.74h1.05M147.36,163.6h1.05M149.72,163.41h1.05M145.94,163.02h1.05M150.54,163.89h1.05M150.5,163.97h1.05M150,163.86h1.05M161.91,163.41h1.05M149.68,163.09h1.05M158.06,163.05h1.05M153.94,163.49h1.05M149.43,163.62h1.05M157.07,163.1h1.05M151.69,163.21h1.05M148.97,163.11h1.05M161.87,163.65h1.05M150.96,163.88h1.05M154.47,163.71h1.05M152.13,163.58h1.05M152.55,163.53h1.05M151.1,163.63h1.05M152.06,163.07h1.05M150.17,163.49h1.05M159.53,163.77h1.05M151.3,163.78h1.05M148.6,163.3h1.05M147.95,163.49h1.05M148.12,163.6h1.05M153.41,163.76h1.05M161.57,163.65h1.05M150.5,163.8h1.05M147.04,163.11h1.05M151.89,163.79h1.05M152.21,163.91h1.05M152.59,163.87h1.05M148.98,163.98h1.05M156.89,163.39h1.05M147.77,163.38h1.05M147.07,163.9h1.05M147.37,163.36h1.05M152.17,163.99h1.05M153.11,164.92h1.05M151.89,164.77h1.05M146.04,164.11h1.05M152.18,164.08h1.05M150.67,164.58h1.05M148.38,164.54h1.05M153.99,164.4h1.05M154.78,164.94h1.05M144.58,164.64h1.05M150.11,164.84h1.05M147.75,164.76h1.05M155.22,164.32h1.05M153.65,164.06h1.05M151.29,164.37h1.05M148.59,164.85h1.05M160.87,164.02h1.05M146.32,164.15h1.05M154.07,164.79h1.05M153.25,164.9h1.05M149.6,164.99h1.05M148.2,164.05h1.05M152.92,164.02h1.05M163.45,164.2h1.05M151.64,164.34h1.05M152.01,165h1.05M150.98,164.6h1.05M150.89,164.2h1.05M158.81,164.21h1.05M155.87,164.35h1.05M152.23,164.3h1.05M155.68,164.11h1.05M154.6,164.08h1.05M151.89,164.94h1.05M156.19,164.06h1.05M152.73,164.81h1.05M153.68,164.37h1.05M156.28,164.91h1.05M149.72,164.58h1.05M157.99,164.07h1.05M147.98,164.25h1.05M154.73,164.84h1.05M156.25,164.29h1.05M148.96,165.25h1.05M151.27,165.02h1.05M153.32,165.11h1.05M147.58,165.51h1.05M152.08,165.66h1.05M154.98,165.41h1.05M151.63,165.75h1.05M147.38,165.61h1.05M158.06,165.25h1.05M150.18,165.8h1.05M146.15,165.37h1.05M148.92,165.53h1.05M151.12,165.76h1.05M159.73,165.32h1.05M154.92,165.52h1.05M155.64,165.89h1.05M154.23,165.03h1.05M157.21,165.66h1.05M149.48,165.69h1.05M145.78,165.6h1.05M148.78,165.15h1.05M151.21,165.01h1.05M156.99,165.51h1.05M151.41,165.76h1.05M157.51,165.62h1.05M153.45,165.99h1.05M149.4,165.65h1.05M161.2,165.67h1.05M155.51,165.93h1.05M147.48,165.47h1.05M148.57,165.53h1.05M159.9,165.13h1.05M149.68,165.99h1.05M156.14,165.61h1.05M151.04,165.31h1.05M151.26,165.87h1.05M158.19,165.11h1.05M146.03,165.79h1.05M154.36,165.75h1.05M157.37,165.06h1.05M152.88,165.75h1.05M149.27,165.44h1.05M151.69,166.67h1.05M150.72,166.61h1.05M156.34,166.88h1.05M160.78,166.27h1.05M158.55,166.02h1.05M155.88,166.19h1.05M150.51,166.86h1.05M152.9,166.82h1.05M152.44,166.33h1.05M152.46,166.3h1.05M146.4,166.46h1.05M152.34,166.08h1.05M155.67,166h1.05M149.18,166.72h1.05M146.21,166.89h1.05M148.17,166.22h1.05M139.42,166.21h1.05M151.12,166.97h1.05M149.77,166.23h1.05M149.48,166.36h1.05M156.49,166.28h1.05M152.06,166.46h1.05M153.25,166.09h1.05M150.67,166.83h1.05M152.3,166.24h1.05M153.46,166.35h1.05M149.65,166.96h1.05M155.19,166.74h1.05M152.69,166.23h1.05M140.78,166.86h1.05M153.69,166.04h1.05M144.61,166.79h1.05M157.33,166.58h1.05M156.28,166.58h1.05M152.48,166.49h1.05M149.42,166.38h1.05M162.84,166.63h1.05M144.12,166.89h1.05M147.47,166.26h1.05M154.7,166.46h1.05M145.44,166.08h1.05M159.73,166.38h1.05M156.27,166.88h1.05M148.85,167.98h1.05M142.99,167.01h1.05M146.3,167.31h1.05M157.45,167.36h1.05M159.61,167.56h1.05M144.48,167.59h1.05M146.82,167.52h1.05M148.42,167.55h1.05M153.49,167.97h1.05M150.28,167.65h1.05M152.26,167.64h1.05M149.2,167.04h1.05M152.73,167.39h1.05M152.94,167.22h1.05M156.85,167.12h1.05M151.8,167.25h1.05M150.19,167.85h1.05M153.98,167.41h1.05M159.55,167.38h1.05M154.95,167.37h1.05M152.21,167.94h1.05M146.79,167.49h1.05M154.52,167.09h1.05M156.22,167.15h1.05M147.45,167.32h1.05M150.96,167.86h1.05M156.82,167.78h1.05M149.8,167.85h1.05M164.45,167.21h1.05M146.55,167.27h1.05M151.69,167.54h1.05M152.81,167.47h1.05M148.89,167.44h1.05M154.8,167.68h1.05M150.05,167.36h1.05M151.6,167.47h1.05M157.43,167.94h1.05M156.69,167.23h1.05M144.13,167.49h1.05M156.29,167.35h1.05M155.94,167.84h1.05M151.94,167.38h1.05M160.51,168.56h1.05M148.51,168.77h1.05M151.96,168.6h1.05M148.34,168.34h1.05M145.3,168.8h1.05M154.7,168.77h1.05M154.66,168.67h1.05M155.93,168.64h1.05M149.23,168.06h1.05M157.45,168.07h1.05M153.85,168.32h1.05M153.56,168.04h1.05M151.31,168.35h1.05M150.94,168.77h1.05M149.35,168.96h1.05M154.24,168.45h1.05M148.03,168.65h1.05M157.54,168.96h1.05M154.27,168.59h1.05M149.42,168.97h1.05M150.14,168.14h1.05M154.29,168.55h1.05M155.74,168.96h1.05M154.04,168.18h1.05M158.52,168.5h1.05M148.7,168.91h1.05M158.79,168.41h1.05M154.73,168.99h1.05M150.77,168.37h1.05M146.37,168.47h1.05M153.29,168.69h1.05M147.32,168.15h1.05M145.54,168.41h1.05M152.1,168.27h1.05M158.25,168.12h1.05M150.06,168.21h1.05M158.62,168.74h1.05M154.66,168.54h1.05M155.52,168.06h1.05M144,169h1.05M154.27,168.25h1.05M154.92,168.28h1.05M155.64,168.69h1.05M154.66,169.32h1.05M154.77,169.77h1.05M160.69,169.18h1.05M151.76,169.17h1.05M152.8,169h1.05M151.02,169.67h1.05M147.19,169.5h1.05M155.28,169.02h1.05M152.87,169.75h1.05M151.16,169.28h1.05M153.02,169.84h1.05M154.55,169.8h1.05M155.12,169.99h1.05M151.98,169.13h1.05M155.13,169.01h1.05M154.89,169.96h1.05M154.09,169.76h1.05M156.27,169.55h1.05M154.91,169.16h1.05M153.23,169.3h1.05M164.07,169.04h1.05M150.29,169.47h1.05M144.23,169.43h1.05M149.4,169.41h1.05M155.66,169.92h1.05M151.24,169.58h1.05M147.6,169.96h1.05M165.21,169.5h1.05M155.89,169.67h1.05M154.73,169.66h1.05M156.61,169.2h1.05M151.38,169.57h1.05M149.54,169.78h1.05M158.61,169.73h1.05M150.52,169.78h1.05M155.89,169.58h1.05M146.53,169.45h1.05M153.19,169.76h1.05M152.75,169.14h1.05M154.45,169.52h1.05M154.94,169.21h1.05M150.92,169.45h1.05M151.83,169.77h1.05M154,170.7h1.05M154.66,170.35h1.05M151.33,170.3h1.05M150.31,170.49h1.05M155.45,170.1h1.05M152.18,170.51h1.05M147.9,170.98h1.05M149.43,170.62h1.05M155.46,170.28h1.05M146.75,170.1h1.05M153.17,170.8h1.05M161.82,170.08h1.05M154.04,170.36h1.05M154.82,170.72h1.05M149.67,170.18h1.05M150.49,170.78h1.05M157.22,170h1.05M149.35,170.58h1.05M153.33,170.19h1.05M155.32,170.93h1.05M149.91,170.32h1.05M149.72,170.34h1.05M155.85,170.96h1.05M148.52,170.02h1.05M156.49,170.61h1.05M151.35,170.33h1.05M147.54,170.15h1.05M154.07,170.91h1.05M158.96,170.93h1.05M152.51,170.17h1.05M144.43,170.35h1.05M155.7,170.92h1.05M156.35,170.98h1.05M155.44,170.53h1.05M149.01,170.65h1.05M150.39,170.49h1.05M145.14,170.72h1.05M153.69,170.76h1.05M158.56,170.79h1.05M154.68,170.75h1.05M157.31,170.01h1.05M150.2,170.97h1.05M149.51,170.6h1.05M144.83,170.31h1.05M149.42,171.98h1.05M146.94,171.66h1.05M150.93,171.15h1.05M161.56,171.03h1.05M144.4,171.83h1.05M150.12,171.19h1.05M150.1,171.32h1.05M152.86,171.79h1.05M151.92,171.78h1.05M151.4,171.71h1.05M149.8,171.35h1.05M153,171.74h1.05M154.85,171.48h1.05M152,171.17h1.05M154.84,171.21h1.05M148.72,171.1h1.05M154.36,171.14h1.05M150.79,171.18h1.05M153.2,171.3h1.05M152.06,171.04h1.05M149.92,171.47h1.05M147.22,171.14h1.05M141.13,171.7h1.05M153.13,171.09h1.05M154.77,171.89h1.05M152.84,171.08h1.05M144.5,171.83h1.05M148.56,171.43h1.05M154.29,171.65h1.05M150.89,171.48h1.05M147.56,171.84h1.05M151.61,171.6h1.05M156.9,171.23h1.05M156.59,171.92h1.05M153.54,171.43h1.05M157.58,171.61h1.05M156.28,171.13h1.05M151.54,171.28h1.05M153.84,172h1.05M157.84,171.06h1.05M148.29,171.93h1.05M147.53,171.59h1.05M150.77,171.55h1.05M145.29,172.18h1.05M148.1,172.98h1.05M149.79,172.91h1.05M150.34,172.56h1.05M157.06,172.16h1.05M146.34,172.38h1.05M155.95,172.32h1.05M149.11,172.08h1.05M150.22,172.67h1.05M153.29,172.86h1.05M154.23,172.21h1.05M157.41,172.25h1.05M142.26,172.33h1.05M155.43,172.59h1.05M157.3,172.43h1.05M143.17,172.92h1.05M154.89,172.03h1.05M144.85,172.71h1.05M150.54,172.73h1.05M149.63,172.93h1.05M152.56,172.79h1.05M157.81,172.19h1.05M150.47,172.24h1.05M150.45,172.01h1.05M144.81,172.62h1.05M145.64,172.03h1.05M159.56,172.31h1.05M159.11,172.81h1.05M145.4,172.15h1.05M153.45,172.62h1.05M149.2,172.48h1.05M151.45,172.06h1.05M149.7,172.16h1.05M152.09,172.88h1.05M158.74,172.29h1.05M152.75,172.66h1.05M142.71,172.74h1.05M155.58,172.68h1.05M153.23,172.93h1.05M148.74,172.43h1.05M149.18,172.21h1.05M148.91,172.46h1.05M154.92,172.37h1.05M157.64,172.73h1.05M147.44,173.13h1.05M148.02,173.55h1.05M159.45,173.83h1.05M149.44,173.6h1.05M147.15,173.94h1.05M150.09,173.21h1.05M149.87,173.32h1.05M154.94,173.27h1.05M156.85,173.18h1.05M155.76,173.44h1.05M150.58,173.8h1.05M141.85,173.91h1.05M146.54,173.11h1.05M143.5,173.08h1.05M155.07,173.14h1.05M152.6,173.95h1.05M152.5,173.88h1.05M152.57,173.11h1.05M149.6,173.87h1.05M157.54,173.36h1.05M145.08,173.42h1.05M144.08,173.06h1.05M150.42,173.42h1.05M144.41,173.63h1.05M155.47,173.28h1.05M152.78,173.56h1.05M147,173.89h1.05M148.98,173.38h1.05M157.31,173.75h1.05M151.26,173.64h1.05M151.99,173.53h1.05M162.17,173.07h1.05M157.51,173.42h1.05M149.5,173.39h1.05M146.96,173.21h1.05M157.67,173.68h1.05M156.39,173.62h1.05M150.88,173.28h1.05M158.69,173.62h1.05M149.18,173.86h1.05M158.67,173.83h1.05M153.13,173.25h1.05M154.15,173.68h1.05M144.2,173.19h1.05M155.62,174.16h1.05M145.91,174.56h1.05M151.81,174.55h1.05M147.2,174.18h1.05M153.03,174.95h1.05M146.93,174.56h1.05M152.39,174.21h1.05M153.76,174.66h1.05M152.01,174.81h1.05M155.24,174.43h1.05M152.39,174.28h1.05M148.78,174.26h1.05M156.83,174.41h1.05M146.63,174.12h1.05M158.7,174.14h1.05M154.41,174.65h1.05M150.42,174.17h1.05M161.02,174.05h1.05M155.4,174.73h1.05M146.34,174.32h1.05M157.41,174.74h1.05M149.48,174.62h1.05M163.43,174.6h1.05M146.91,174.66h1.05M156.01,174.49h1.05M155.96,174.42h1.05M148.83,174.68h1.05M152.54,174.2h1.05M145.14,174.75h1.05M148.84,174.19h1.05M154.34,174.45h1.05M154.12,174.35h1.05M154.31,174.27h1.05M151.61,174.51h1.05M153.85,174.09h1.05M150.82,174.86h1.05M150.92,174.32h1.05M153.86,174.63h1.05M149.45,174.07h1.05M147.31,174.28h1.05M151.81,174.65h1.05M150.61,174.91h1.05M155.35,174.88h1.05M142.31,174.34h1.05M142.92,174.13h1.05M156.54,175.11h1.05M154.07,175.75h1.05M147.45,175.65h1.05M145.01,175.87h1.05M155.99,175.57h1.05M153.74,175.79h1.05M150.11,175.19h1.05M150.01,175.59h1.05M155.42,175h1.05M156.97,175.44h1.05M152.18,175.22h1.05M151.38,175.37h1.05M151.61,175.17h1.05M147.56,175.53h1.05M157.6,175.13h1.05M158.8,175.06h1.05M148.21,175.64h1.05M153.17,175.6h1.05M154.69,175.44h1.05M146.95,175.68h1.05M153.51,175.08h1.05M152.55,175.95h1.05M156.81,175.81h1.05M148.83,175.95h1.05M155.97,175.84h1.05M154.61,175.49h1.05M154.43,175.34h1.05M161.25,175h1.05M156.03,175.83h1.05M150.83,175.83h1.05M156.28,175.94h1.05M148.24,175.05h1.05M154.04,175.74h1.05M164.26,175.69h1.05M151.79,175.61h1.05M149.68,175.92h1.05M150.43,175.51h1.05M159.23,175.27h1.05M147.76,175.1h1.05M147.35,175.65h1.05M146,175.15h1.05M156.01,175.58h1.05M155.33,175.36h1.05M147.58,175.36h1.05M155.26,175.11h1.05M151.87,176.08h1.05M151.05,176.48h1.05M154.45,176h1.05M141.37,176.75h1.05M144.67,176.46h1.05M154.06,176.08h1.05M149.41,176.36h1.05M152.6,176.46h1.05M156.22,176.35h1.05M157,176.44h1.05M149.01,176.13h1.05M151.53,176.57h1.05M151,176.32h1.05M146.1,176h1.05M152.47,176.34h1.05M148.04,176.77h1.05M159.17,176.86h1.05M148.76,176.43h1.05M155.57,176.48h1.05M154.25,176.26h1.05M153.67,176.8h1.05M145.85,176.76h1.05M149.47,176.43h1.05M148.89,176.01h1.05M156.16,176.52h1.05M148.45,176.9h1.05M152.18,176.39h1.05M154.98,176.43h1.05M155.35,176.31h1.05M154.81,176.95h1.05M149.26,176.78h1.05M153.87,176.5h1.05M149.49,176.33h1.05M149.68,176.62h1.05M151.63,176.77h1.05M155.47,176.57h1.05M158.49,176.57h1.05M146.48,176.46h1.05M153.68,176.49h1.05M146.34,176.12h1.05M157.42,176.38h1.05M156.84,176.78h1.05M156.71,176.64h1.05M153.84,176.02h1.05M152.3,176.68h1.05M149.13,177.05h1.05M155.18,177.14h1.05M150.8,177.65h1.05M152.79,177.93h1.05M147.13,177.43h1.05M156.87,177.4h1.05M159.02,177.52h1.05M148.86,177.76h1.05M152.7,177.26h1.05M151.2,177.12h1.05M146.85,177.39h1.05M149.37,177.98h1.05M155.55,177.22h1.05M152.31,177.28h1.05M157.84,177.42h1.05M154.48,177.47h1.05M148.52,177.61h1.05M158.21,177.51h1.05M150.22,177.93h1.05M153.37,177.36h1.05M155.24,177.82h1.05M149.97,177.11h1.05M161.03,177.06h1.05M149.66,177.7h1.05M154.32,177.95h1.05M152.83,177.86h1.05M154.67,177.55h1.05M156.18,177.07h1.05M150.87,177.32h1.05M146.28,177.06h1.05M152.69,177.13h1.05M143.63,177.7h1.05M151.53,177.92h1.05M148.26,177.87h1.05M153.87,177.64h1.05M148.88,177.41h1.05M153.23,177.15h1.05M145.4,177.1h1.05M144.57,177.98h1.05M152.81,177.27h1.05M154.16,177.1h1.05M149.71,177.82h1.05M155.94,177.2h1.05M156.43,177.7h1.05M163.04,177.02h1.05M147.07,178.41h1.05M154.19,178.24h1.05M146.41,178.92h1.05M151.57,178.87h1.05M153.51,178.66h1.05M150.26,178.3h1.05M148.61,178.21h1.05M151.98,178.9h1.05M148.6,178.21h1.05M155.34,178.32h1.05M143.9,178.71h1.05M152.65,178.35h1.05M154.67,178.84h1.05M148.14,178.94h1.05M153.21,178.93h1.05M158.13,178.87h1.05M154.96,178.23h1.05M149.32,178.82h1.05M161.29,178.38h1.05M148.96,178.38h1.05M147.81,178.01h1.05M148.13,178.3h1.05M147.24,178.92h1.05M155.08,178.23h1.05M149.69,178.73h1.05M151.68,178.94h1.05M157.18,178.28h1.05M157.96,178.42h1.05M146.93,178.81h1.05M154.95,178.72h1.05M153.44,178.87h1.05M154.22,178.48h1.05M153.45,178.15h1.05M148.14,178.36h1.05M151.61,178.09h1.05M156.67,178.27h1.05M150.76,178.21h1.05M159.65,178.12h1.05M151.68,178.5h1.05M151.47,178.82h1.05M152.32,178.76h1.05M153.89,178.07h1.05M158.47,178.87h1.05M153.94,178.59h1.05M147.38,178.66h1.05M153.9,179.76h1.05M151.62,179.1h1.05M157.74,179.42h1.05M142.59,179.61h1.05M160,179.21h1.05M160.87,179.92h1.05M153.18,179.1h1.05M143.04,179.29h1.05M156.99,179.13h1.05M153.65,179.51h1.05M146.98,179.72h1.05M153.43,180h1.05M148.88,179.33h1.05M152.3,179.55h1.05M139,179.85h1.05M146.52,179.78h1.05M147.53,179.87h1.05M153.87,179.8h1.05M155.25,179.41h1.05M148.87,179.96h1.05M160.23,179.29h1.05M162.14,179.71h1.05M142.02,179.57h1.05M156.79,179.6h1.05M160.29,179.21h1.05M155.96,179.13h1.05M147.87,179.46h1.05M158.64,179.19h1.05M148.93,179.86h1.05M146.66,179.39h1.05M152.94,179.09h1.05M148.58,179.02h1.05M149.78,179.84h1.05M149.25,179.76h1.05M146.88,179.24h1.05M150.44,179.58h1.05M149.12,179.47h1.05M149.93,179.07h1.05M147.82,179.22h1.05M153.26,179.71h1.05M149.11,179.01h1.05M154.2,179.58h1.05M151.67,179.8h1.05M152.06,179.61h1.05M151.54,179.4h1.05M165.55,179.04h1.05M147.7,180.59h1.05M161.59,180.77h1.05M162.34,180.39h1.05M154.22,180.43h1.05M152.42,180.93h1.05M144.64,180.2h1.05M152.13,180.73h1.05M149.03,180.44h1.05M143.87,180.2h1.05M145.8,180.39h1.05M148.91,180.57h1.05M152.45,180.03h1.05M156.74,180.87h1.05M151.46,180.62h1.05M158.36,180.3h1.05M148.94,180.97h1.05M143.09,180.39h1.05M152.99,180.13h1.05M149.36,180.85h1.05M156.34,180.77h1.05M147.61,180.64h1.05M151.83,180.03h1.05M154.64,180.06h1.05M157.4,180.53h1.05M154.39,180.16h1.05M156.67,180.19h1.05M139.02,180.63h1.05M154.43,180.61h1.05M156.78,180.89h1.05M149.71,180.07h1.05M154.72,180.22h1.05M151.82,180.15h1.05M147.98,180.99h1.05M151.09,180.32h1.05M147.91,180.77h1.05M155.84,180.06h1.05M151.91,180.74h1.05M158.15,180.32h1.05M152.92,180.13h1.05M152.61,180.78h1.05M153.76,180.54h1.05M147.55,180.59h1.05M146.44,180.05h1.05M155.07,180.9h1.05M144.91,180.01h1.05M155.02,180.29h1.05M161.77,181.4h1.05M151.96,181.21h1.05M149.83,181.47h1.05M150.02,181.75h1.05M154.87,181.51h1.05M151,181.19h1.05M143.54,181.24h1.05M151.74,181.05h1.05M152.76,181.85h1.05M147.37,181.95h1.05M149.03,181.59h1.05M145.83,181.36h1.05M150.58,181.85h1.05M155.38,181.3h1.05M156.4,181.05h1.05M142.83,181.31h1.05M151.64,181.59h1.05M155.27,181.99h1.05M138.69,181.88h1.05M155.43,181.33h1.05M158.95,181.74h1.05M155.21,181.41h1.05M146.01,181.82h1.05M157.49,181h1.05M143.9,181.23h1.05M151.45,181.84h1.05M161.55,181.83h1.05M154.85,181.83h1.05M154.02,181.55h1.05M143.38,181.24h1.05M160.55,181.91h1.05M156.36,181.16h1.05M159.49,181.57h1.05M155.2,181.01h1.05M151.49,181.09h1.05M153.26,181.88h1.05M150.28,181.58h1.05M162.73,181.94h1.05M151.98,181.84h1.05M146.16,181.94h1.05M156.72,181.86h1.05M144.73,181.82h1.05M146.98,181.76h1.05M160.36,181.92h1.05M146.84,181.19h1.05M151.82,181.34h1.05M152.26,181.28h1.05M146.38,182.98h1.05M152.55,182.11h1.05M156.01,182.54h1.05M150.5,182.66h1.05M147.26,182.82h1.05M153.65,182.71h1.05M150.36,182.18h1.05M155.2,182.06h1.05M156.16,182.24h1.05M145.2,182.4h1.05M148.25,182.11h1.05M151.89,182.63h1.05M149.44,182.86h1.05M155.52,182.83h1.05M150.69,182.86h1.05M148.11,182.93h1.05M159.94,182.06h1.05M151.64,182.06h1.05M155.45,182.17h1.05M141.37,182.1h1.05M156.71,182.62h1.05M146.61,182.93h1.05M153.12,182.88h1.05M154.04,182.89h1.05M160.86,182.25h1.05M143.72,182.39h1.05M153.64,182.77h1.05M157.83,182.12h1.05M155.41,182.63h1.05M156.19,182.02h1.05M148.92,182.98h1.05M149.3,182.23h1.05M145.96,182.78h1.05M152.57,182.04h1.05M143.14,182.37h1.05M154.15,182.2h1.05M148.92,182.05h1.05M151.41,182.04h1.05M147.14,182.11h1.05M152.84,182.26h1.05M156.05,182.7h1.05M153.46,182.5h1.05M156.52,182.24h1.05M151.29,182.46h1.05M148.71,182.95h1.05M151.78,182.48h1.05M154.25,182.99h1.05M148.5,183.93h1.05M156.64,183.3h1.05M154.66,183.76h1.05M155.95,183.37h1.05M141.29,183.67h1.05M150.44,183.88h1.05M151.09,183.68h1.05M155.93,183.26h1.05M142.44,183.47h1.05M158.28,183.7h1.05M154.11,183.66h1.05M155.11,183.92h1.05M153.55,183.76h1.05M139.79,183.61h1.05M156.22,183.07h1.05M154.95,183.87h1.05M154.54,183.66h1.05M152.59,183.05h1.05M148,183.8h1.05M151.87,183.6h1.05M160.83,183.92h1.05M156.58,183.79h1.05M155.11,183.07h1.05M150.97,183.45h1.05M158.06,183.87h1.05M152.63,183.74h1.05M150.58,183.49h1.05M150.62,183.42h1.05M142.1,183.01h1.05M151.57,183.86h1.05M153.29,183.62h1.05M160.73,183.54h1.05M150.02,183.47h1.05M156.73,183.78h1.05M148.43,183.32h1.05M156.75,183.65h1.05M145.96,183.62h1.05M151.31,183.16h1.05M145.63,183.72h1.05M155.82,183.46h1.05M153.07,183.59h1.05M149.89,183.16h1.05M156.65,183.14h1.05M141.92,183.28h1.05M155.55,183.72h1.05M145.28,183.1h1.05M157.8,183h1.05M151.44,183.71h1.05M148.47,184.31h1.05M151.14,184.33h1.05M150.46,184.17h1.05M158.58,184.72h1.05M153.79,184.37h1.05M148.37,184.34h1.05M154.6,184.79h1.05M145.36,184.92h1.05M148.97,184.84h1.05M151.02,184.11h1.05M152.38,184.76h1.05M155.55,184.89h1.05M156.05,184.62h1.05M156.92,184.53h1.05M153.84,184.34h1.05M153.71,184.6h1.05M150.91,184.54h1.05M149.71,184.46h1.05M154.26,184.45h1.05M150.26,184.12h1.05M148.48,184.87h1.05M152.92,184.24h1.05M155.24,184.73h1.05M156.18,184.84h1.05M147.78,184.64h1.05M149.8,184.36h1.05M151.61,184.87h1.05M149.87,184.43h1.05M152.43,184.51h1.05M154.08,184.2h1.05M151.95,184.35h1.05M153.9,184.08h1.05M157.71,184.07h1.05M145.33,184.63h1.05M147.22,184.34h1.05M148.22,184.64h1.05M158.57,184.99h1.05M148.46,184.18h1.05M144.14,184.25h1.05M146.26,184.05h1.05M151.71,184.61h1.05M147.66,184.76h1.05M159.89,184.71h1.05M152.77,184.24h1.05M157.54,184.86h1.05M146.21,184.88h1.05M150.96,184.49h1.05M159.82,184.75h1.05M153.21,185.56h1.05M156.77,185.85h1.05M155.86,185.95h1.05M149.13,185.25h1.05M149.44,185.77h1.05M153.87,185.64h1.05M154.21,185.35h1.05M155.63,185.44h1.05M140.72,185.55h1.05M140.54,185.09h1.05M155.17,185.08h1.05M151.38,185.44h1.05M159.27,185.21h1.05M154.48,185.04h1.05M157.72,185.42h1.05M153.8,185.84h1.05M159.15,185.93h1.05M148.72,185.03h1.05M152.31,185.39h1.05M152.32,185.26h1.05M148.28,185.98h1.05M150.15,185.21h1.05M158.96,185.12h1.05M148.41,185.17h1.05M158.47,185.82h1.05M150.67,185.59h1.05M158.37,185.98h1.05M153.18,185.37h1.05M153.03,185.45h1.05M159.28,185.95h1.05M149.33,185.23h1.05M153.36,185.38h1.05M157.33,185.77h1.05M148.68,185.03h1.05M151.66,185.62h1.05M152.57,185.79h1.05M147.54,185.9h1.05M151.33,185.01h1.05M154.82,185.68h1.05M150.76,185.48h1.05M151.1,185.1h1.05M145.45,185.75h1.05M143.12,185.43h1.05M142.92,185.6h1.05M156.53,185.3h1.05M153.24,185.49h1.05M147.44,185.43h1.05M157.82,185.1h1.05M150.66,186.17h1.05M150.16,186.41h1.05M154.68,186.36h1.05M150.85,186.35h1.05M150.56,186.99h1.05M157.61,186.84h1.05M152.44,186.73h1.05M162.32,186.04h1.05M143.71,186.07h1.05M156.12,186.32h1.05M151.27,186.74h1.05M157.82,186.8h1.05M152.24,186.33h1.05M158.67,186.82h1.05M155.66,186.02h1.05M140.71,186.61h1.05M153.88,186.99h1.05M150.54,186.82h1.05M147.44,186.59h1.05M151.42,186.42h1.05M138.37,186.66h1.05M146.21,186.15h1.05M150.12,186.9h1.05M145.92,186.32h1.05M156.77,186.6h1.05M149.17,186.49h1.05M149.93,186.09h1.05M144.1,186.44h1.05M150.57,186.4h1.05M162.72,186.34h1.05M149.26,186.21h1.05M151.2,186.86h1.05M153.46,186.8h1.05M156.97,186.53h1.05M149.85,186.04h1.05M150.87,186.39h1.05M148.62,186.66h1.05M151.71,186.23h1.05M151.42,186.71h1.05M142.04,186.2h1.05M160.71,186.1h1.05M161.12,186.08h1.05M150.32,186.57h1.05M145.08,186.53h1.05M153.88,186.82h1.05M148.37,186.14h1.05M156.73,186.16h1.05M143.15,186.11h1.05M140.7,186.81h1.05M161.45,187.34h1.05M151.34,187.6h1.05M157.8,187.08h1.05M158.24,187.37h1.05M156.01,187.66h1.05M158.68,187.51h1.05M154.72,187.11h1.05M154.83,187.39h1.05M155.16,187.54h1.05M150.97,187.19h1.05M152.14,187.53h1.05M152.57,187.51h1.05M148.54,187.41h1.05M147.12,187.07h1.05M153.75,187.44h1.05M153.16,187.86h1.05M160,187.91h1.05M149.83,187.61h1.05M147.66,187.5h1.05M151.4,187.87h1.05M156.17,187.46h1.05M149.57,187.25h1.05M150.39,187.64h1.05M146.44,187.22h1.05M150.21,187.08h1.05M150.05,187.85h1.05M151.39,187.46h1.05M148.08,187.91h1.05M153.9,187.24h1.05M151.96,187.74h1.05M158.46,187.3h1.05M149.47,187.73h1.05M152.47,187.55h1.05M147.93,187.38h1.05M155.95,187.66h1.05M153.6,187.2h1.05M152.03,187.18h1.05M153.21,187.56h1.05M151.26,187.42h1.05M139.17,187.6h1.05M162.35,187.66h1.05M144.1,187.44h1.05M147.01,187.86h1.05M154.58,187.25h1.05M152.01,187.74h1.05M156.48,187.44h1.05M152.15,187.02h1.05M151.86,187.13h1.05M152.22,187.9h1.05M150.97,188.41h1.05M152.49,188.02h1.05M156.72,188.98h1.05M150.9,188.05h1.05M148.67,188.63h1.05M152.26,188.01h1.05M140.4,188.06h1.05M154.83,188.97h1.05M148.63,188.48h1.05M152.76,188.01h1.05M153.62,188.34h1.05M153.7,188.25h1.05M152.8,188.18h1.05M158.44,188.06h1.05M159.4,188.43h1.05M154.12,188.09h1.05M149.68,188.22h1.05M154.94,188.04h1.05M147.26,188.58h1.05M158.67,188.51h1.05M143.2,188.8h1.05M150.85,188.53h1.05M148.64,188.86h1.05M156.55,188.52h1.05M152.76,188.95h1.05M162.91,188.29h1.05M162.24,188.43h1.05M149.45,188.57h1.05M155.06,188.32h1.05M143.96,188.93h1.05M152.59,188.61h1.05M161.54,188.25h1.05M145.66,188.14h1.05M151.58,188.05h1.05M149.13,188.87h1.05M147.93,188.49h1.05M151.61,188.56h1.05M158.33,188.31h1.05M152.67,188.87h1.05M142.29,188.67h1.05M154.14,188.05h1.05M151.29,188.21h1.05M152.83,188.09h1.05M144.68,188.8h1.05M153.4,188.18h1.05M156.13,188.91h1.05M149.83,188.2h1.05M150.94,188.35h1.05M156.94,188.68h1.05M157.75,188.77h1.05M147.79,189.65h1.05M153.79,189.08h1.05M155.38,189.11h1.05M147.86,189.26h1.05M144.53,189.45h1.05M147.05,189.55h1.05M145.9,189.43h1.05M145.23,189.36h1.05M151.09,189.14h1.05M143.24,189.46h1.05M151.93,189.29h1.05M150.78,189.96h1.05M144.88,189.5h1.05M149.6,189.17h1.05M155.77,189.48h1.05M169.67,189.07h1.05M154.35,189.01h1.05M139.43,189.3h1.05M160.76,189.34h1.05M144.75,189.29h1.05M152.7,189.88h1.05M161.95,189.69h1.05M157.15,189.91h1.05M156.9,189.1h1.05M141.61,189.84h1.05M149.42,189.93h1.05M158.92,189.78h1.05M143.43,189.83h1.05M145.49,189.66h1.05M157.04,189.38h1.05M150.24,189.1h1.05M145.64,189.91h1.05M158.68,189.89h1.05M150.3,189.78h1.05M147.74,189.51h1.05M153.63,189.39h1.05M147.81,189.44h1.05M158.92,189.77h1.05M157.98,189.55h1.05M150.37,189.68h1.05M148.5,189.89h1.05M150.48,189.62h1.05M153.94,189.21h1.05M151.29,189.03h1.05M154.73,189.03h1.05M154.92,189.05h1.05M154.19,189.1h1.05M154.4,189.31h1.05M153.9,189.58h1.05M150.49,189.38h1.05M148.52,190.28h1.05M151.95,190.43h1.05M154.29,191h1.05M159.26,190.26h1.05M152.12,190.06h1.05M152.5,190.1h1.05M155.49,190.37h1.05M148.72,190.34h1.05M160.49,190.38h1.05M148.74,190.9h1.05M141.59,190.43h1.05M135.23,190.34h1.05M142.74,190.08h1.05M155.02,190.68h1.05M146.07,190.12h1.05M146.47,191h1.05M162.48,190.47h1.05M147.7,190.12h1.05M151.08,190.31h1.05M157.58,190.89h1.05M147.99,190.66h1.05M143.48,190.66h1.05M154.81,190.61h1.05M155.56,190.99h1.05M141.63,190.04h1.05M154.59,190.47h1.05M155.65,190.07h1.05M145.56,190.87h1.05M153.84,190.83h1.05M152.96,190.77h1.05M150.94,190.1h1.05M138.94,190.47h1.05M144.21,190.35h1.05M152.08,190.14h1.05M154.71,190.75h1.05M152,190.55h1.05M160.82,190.38h1.05M160.18,190.2h1.05M155.98,190.83h1.05M165.09,190.71h1.05M148.58,190.01h1.05M145.67,190.13h1.05M151.88,190.35h1.05M150.59,190.22h1.05M166.22,190.49h1.05M151.47,190.42h1.05M143.49,190.8h1.05M150.59,190.78h1.05M155.67,190.5h1.05M150.71,190.74h1.05M163.36,190.12h1.05M153.23,191.39h1.05M154.52,191.31h1.05M146.6,191.01h1.05M148,191.14h1.05M146.29,191.74h1.05M155.5,191.88h1.05M155.7,191.5h1.05M155.01,191.15h1.05M152.14,191.89h1.05M154.02,191.45h1.05M152.21,191.34h1.05M150.88,191.22h1.05M156.95,191.31h1.05M155.99,191.89h1.05M151.31,191.92h1.05M151.58,191.64h1.05M144.77,191.15h1.05M150.33,191.95h1.05M151.93,191.57h1.05M154.23,191.75h1.05M149.42,191.35h1.05M158.11,191.67h1.05M162.07,191.61h1.05M152.75,191.66h1.05M148.18,191.87h1.05M145.2,191.27h1.05M156.2,191.35h1.05M150.11,191.91h1.05M138.76,191.26h1.05M155.66,191.64h1.05M157.3,191.52h1.05M152.3,191.13h1.05M156.07,191.57h1.05M151.42,191.93h1.05M157.15,191.92h1.05M161.76,191.71h1.05M156.52,191.17h1.05M157.74,191.87h1.05M152.95,191.3h1.05M144.44,191.13h1.05M151.19,191.71h1.05M155.12,191.46h1.05M153,191.04h1.05M150.96,191.98h1.05M157.5,191.99h1.05M147.44,191.99h1.05M147.84,191.04h1.05M156.36,191.16h1.05M154.38,191.69h1.05M146.73,191.06h1.05M161.82,191.33h1.05M139.77,191.38h1.05M151.54,192.87h1.05M150.48,192.5h1.05M158.95,192.36h1.05M151.55,192.93h1.05M148.21,192.42h1.05M157.39,192.09h1.05M150.65,192.41h1.05M155.05,192.84h1.05M150.58,192.57h1.05M144.78,192.22h1.05M154.98,192.28h1.05M158.91,192.31h1.05M153.2,192.13h1.05M149.41,192.98h1.05M144.8,192.33h1.05M138.16,192.24h1.05M148.69,192.88h1.05M157.76,192.45h1.05M148.26,192.54h1.05M143.58,192.38h1.05M156.52,192.69h1.05M147.45,192.47h1.05M154.96,192.46h1.05M158.69,192.26h1.05M155.98,192.37h1.05M150.08,192.33h1.05M143.65,192.66h1.05M145.63,192.13h1.05M153.31,192.26h1.05M154.63,192.39h1.05M153.73,192.77h1.05M148.86,192.71h1.05M149.29,192.19h1.05M152.78,192.24h1.05M150.71,192.81h1.05M145.82,192.89h1.05M149.66,192.11h1.05M159.69,192.13h1.05M148.97,192.45h1.05M153.44,192.28h1.05M147.26,192.26h1.05M150.66,192.57h1.05M149.98,192.33h1.05M141.13,192.62h1.05M149.77,192.83h1.05M152.47,192.9h1.05M159.92,192.2h1.05M155.99,192.09h1.05M150.39,192.51h1.05M152.74,192.45h1.05M148.76,192.11h1.05M142.15,192.42h1.05M146.29,192.56h1.05M156.53,193.24h1.05M164.02,193.6h1.05M152.99,193.06h1.05M147.38,193.43h1.05M157.03,193.25h1.05M142.11,193.18h1.05M150.26,193.97h1.05M152.13,193.41h1.05M156.74,193.12h1.05M152.93,193.87h1.05M149.15,193.91h1.05M145.56,193.5h1.05M147.71,193.75h1.05M147.74,193.21h1.05M157.38,193.63h1.05M152.51,193.72h1.05M155.51,193.67h1.05M165.41,193.43h1.05M149.84,193.96h1.05M159.25,193.98h1.05M145.58,193.05h1.05M153.74,193.8h1.05M149.14,193.11h1.05M152.75,193.9h1.05M153.47,193.36h1.05M150.82,193.35h1.05M155.26,193.46h1.05M158.02,193.84h1.05M153.31,193.94h1.05M158.9,193.81h1.05M153.19,193.19h1.05M159.99,193.15h1.05M142.95,194h1.05M156.87,193.02h1.05M152.46,193.37h1.05M157.18,193.11h1.05M148.82,193.99h1.05M149.45,193.05h1.05M152.47,193.97h1.05M155.75,193.9h1.05M155.33,193.97h1.05M145.94,193.59h1.05M156.36,193.47h1.05M157.94,193.84h1.05M155.79,193.91h1.05M149.87,193.03h1.05M157.21,193.6h1.05M149.74,193.83h1.05M151.36,193.95h1.05M152.88,193.19h1.05M149.48,193.1h1.05M143.46,193.66h1.05M158.23,194.11h1.05M148.79,194.08h1.05M153.02,194.16h1.05M153.61,194.45h1.05M142.36,194.4h1.05M151.43,194.35h1.05M160.36,194.37h1.05M154.87,194.7h1.05M154.53,194.55h1.05M160.36,194.01h1.05M145.59,194.44h1.05M148.3,194.1h1.05M155.47,194.35h1.05M153.16,194.44h1.05M153.47,194.08h1.05M153.84,194.14h1.05M157.33,194.15h1.05M145.73,194.15h1.05M148.48,194.28h1.05M148.27,194.71h1.05M151.18,194.86h1.05M156.04,194.57h1.05M156.94,194.05h1.05M156.1,194.31h1.05M148.37,194.5h1.05M141.54,194.03h1.05M155.99,194.91h1.05M167.02,194.46h1.05M150.53,194.11h1.05M152.07,194.82h1.05M159.43,194.48h1.05M157.34,194.22h1.05M167.1,194.87h1.05M155.44,194.41h1.05M144.18,194.38h1.05M154.68,194.82h1.05M147.74,194.92h1.05M154.33,194.36h1.05M163.25,194.8h1.05M148.77,194.22h1.05M151.4,194.77h1.05M163.87,194.11h1.05M151.61,194.36h1.05M144.75,194.91h1.05M154.14,194.91h1.05M156.7,194.02h1.05M152.15,194.54h1.05M152.58,194.74h1.05M153.94,194h1.05M155.52,194h1.05M164.67,194.42h1.05M154.35,194.27h1.05M157.35,194.24h1.05M146.45,194.21h1.05M152.45,127.06h1.05M147.55,132.18h1.05M154.9,134.74h1.05M152.66,135.46h1.05M155.07,136.56h1.05M152.84,137.24h1.05M147.95,138.55h1.05M151.44,139.38h1.05M149.62,140.7h1.05M147.02,141.42h1.05M151.49,142.1h1.05M149.87,143.94h1.05M153.95,144.67h1.05M150.42,144.43h1.05M153.33,145.04h1.05M149.5,146.14h1.05M152.77,147.07h1.05M154.25,147.11h1.05M152.1,148.56h1.05M145.02,148.91h1.05M151.33,149.84h1.05M149.98,149.24h1.05M153.5,150.49h1.05M151.88,150.98h1.05M148.12,151.73h1.05M159.75,151.64h1.05M150.28,152.89h1.05M150.52,152.09h1.05M154.6,152.24h1.05M148.86,153.21h1.05M152.17,153.53h1.05M153.4,153.98h1.05M152.33,154.21h1.05M153.47,154.96h1.05M147.83,155h1.05M154.72,155.04h1.05M157.96,155.82h1.05M154.8,155.34h1.05M149.37,156.78h1.05M148.51,156.76h1.05M150.41,156.17h1.05M159.81,157.96h1.05M151.38,157.72h1.05M140.55,157.02h1.05M152.73,158.65h1.05M146.38,158.61h1.05M149.54,158.49h1.05M147.58,159.95h1.05M155.56,159.95h1.05M152.14,159.29h1.05M152.17,160.23h1.05M160.45,160.49h1.05M153.08,160.57h1.05M155.06,160.64h1.05M150.88,161.96h1.05M152.61,161.91h1.05M148.44,161.9h1.05M155.59,161.02h1.05M155.18,162.12h1.05M150.39,162.98h1.05M153.55,162.86h1.05M154.02,162.17h1.05M148.27,163.82h1.05M153.32,163.23h1.05M151.32,163.06h1.05M154.87,163.14h1.05M150.63,164.37h1.05M148.06,164.03h1.05M149.1,164.84h1.05M145.81,164.85h1.05M151.24,165.36h1.05M150,165.94h1.05M151.3,165.17h1.05M152.59,165.76h1.05M151.63,166.78h1.05M154.24,166.84h1.05M155.2,166.6h1.05M146.8,166.58h1.05M154.9,167.9h1.05M155.3,167.29h1.05M151.25,167.32h1.05M152.47,167.44h1.05M150.48,168.8h1.05M144.67,168.49h1.05M154.54,168.8h1.05M156.41,168.6h1.05M153.15,169.46h1.05M156.53,169.89h1.05M162.02,169.39h1.05M148.17,169.72h1.05M144.55,170.24h1.05M143.8,170.65h1.05M160.58,170.12h1.05M152.46,170.09h1.05M152.52,171.41h1.05M150.04,171.6h1.05M152.16,171.13h1.05M148.73,171.03h1.05M149.15,171.54h1.05M148.33,172.87h1.05M152.37,172.79h1.05M143.44,172.49h1.05M144.75,172.07h1.05M151.25,173.35h1.05M152.97,173.36h1.05M161.07,173.74h1.05M150.54,173.87h1.05M140.69,174.06h1.05M144.66,174.04h1.05M145.86,174.45h1.05M157.92,174.8h1.05M151.86,174.76h1.05M150.72,175.85h1.05M160.64,175.32h1.05M153.71,175.9h1.05M147.77,175.02h1.05M150.06,176.49h1.05M153.09,176.85h1.05M148.66,176.6h1.05M157.37,176.15h1.05M156.63,177.89h1.05M153.91,177.92h1.05M146.41,177.14h1.05M157.59,177.33h1.05M151.96,178.04h1.05M165.41,178.96h1.05M151.82,178.31h1.05M156.77,178.26h1.05M148.99,179.93h1.05M159.08,179.98h1.05M152.88,179.09h1.05M144.38,179.57h1.05M156.58,180.65h1.05M147.33,180.83h1.05M153.01,180.07h1.05M151.48,180.42h1.05M150.24,181.99h1.05M159.62,181.36h1.05M149.61,181.2h1.05M154.27,181.26h1.05M143.9,181.28h1.05M146.59,182.7h1.05M142.96,182.41h1.05M146.86,182.93h1.05M146.42,182.97h1.05M149.89,182.59h1.05M151.35,183.89h1.05M149.14,183.52h1.05M153.67,183.16h1.05M143.85,183.39h1.05M152.7,183.14h1.05M158.03,184.38h1.05M154.62,184.84h1.05M148.87,184.9h1.05M148.73,184.91h1.05M152.92,184.59h1.05M148.44,185.13h1.05M145.19,185.03h1.05M149.99,185.87h1.05M150.58,185.64h1.05M151.52,185.9h1.05M142.06,186.04h1.05M144.25,186.06h1.05M151.53,186.67h1.05M151.53,186.25h1.05M145.4,186.12h1.05M152.67,187.7h1.05M157.03,187.84h1.05M152.2,187.23h1.05M145.44,187.52h1.05M157.97,187.4h1.05M150.61,188.77h1.05M157.14,188.78h1.05M155.13,188.37h1.05M156.14,188.12h1.05M155.01,188.55h1.05M151.84,189.58h1.05M153.77,189.45h1.05M149.74,189.26h1.05M151.63,189.27h1.05M145.85,190.33h1.05M155.82,190.06h1.05M155.44,190.91h1.05M146.07,190.34h1.05M147.73,190.5h1.05M154.16,191.18h1.05M154.68,191.35h1.05M152.14,191.29h1.05M155.31,191.6h1.05M149,191.36h1.05M148.81,192.2h1.05M150.8,192.83h1.05M156.4,192.13h1.05M150.2,192.56h1.05M160.25,192.39h1.05M155.47,193.53h1.05M149.45,193.85h1.05M143.05,193.19h1.05M148.53,193.02h1.05M148.61,193.31h1.05M153.37,194.11h1.05M154.87,194.42h1.05M160.23,194.69h1.05M143.42,194.79h1.05M150.13,194.91h1.05M146.08,107.41h1.05M145.41,108.72h1.05M144.29,109.03h1.05M147.11,110.33h1.05M147.46,111.75h1.05M146.2,111.28h1.05M146.26,112.83h1.05M143.86,112.17h1.05M144.77,113.87h1.05M145.29,113.4h1.05M145.72,114.84h1.05M144.39,114.75h1.05M146.11,115.28h1.05M146.92,115.06h1.05M143.5,116.34h1.05M146.86,116.23h1.05M148.22,117.88h1.05M145.77,117.58h1.05M145.75,117.05h1.05M144.62,118.91h1.05M144.06,118.09h1.05M147.89,118.48h1.05M147.29,119.04h1.05M145.47,119.86h1.05M146.15,119.11h1.05M146.31,120.06h1.05M146.43,120.93h1.05M144.73,121.62h1.05M146.13,121.57h1.05M146.7,121.11h1.05M146.47,122.21h1.05M144.32,122.49h1.05M146.41,122.38h1.05M144.48,123.39h1.05M145.14,123.08h1.05M146.42,123.96h1.05M146.6,124.75h1.05M145.62,124.8h1.05M146.74,124.62h1.05M145.15,125.17h1.05M144.02,125.54h1.05M145.32,125.91h1.05M146.48,126.6h1.05M145.03,126.34h1.05M143.87,126.98h1.05M149.02,127.29h1.05M145.61,127.63h1.05M145.24,127.2h1.05M146.1,127.02h1.05M146.91,128.12h1.05M147.71,128.67h1.05M148.22,128.86h1.05M148.08,128.89h1.05M143.94,129.27h1.05M145.5,129.01h1.05M145.46,129.35h1.05M144.9,130.71h1.05M145.73,130.41h1.05M145.12,130.68h1.05M145.19,130.42h1.05M143.85,131.17h1.05M147.34,131.84h1.05M146.28,131.28h1.05M145.82,131.77h1.05M144.6,132.14h1.05M146.64,132.49h1.05M146.71,132.35h1.05M145.73,132.54h1.05M145.83,133h1.05M143.94,133.21h1.05M146.32,133.8h1.05M145.37,133.45h1.05M147.05,134.75h1.05M145.66,134.1h1.05M145.48,134.03h1.05M145.98,134.12h1.05M149.43,134.37h1.05M145.22,135.24h1.05M146.17,135.39h1.05M147.57,135.48h1.05M144.36,135.62h1.05M145.73,135.14h1.05M144.9,136.39h1.05M145.33,136.42h1.05M143.97,136.23h1.05M142.03,136.43h1.05M143.51,136.06h1.05M144.38,137.56h1.05M145.37,137.84h1.05M146.7,137.75h1.05M144.92,137.07h1.05M144.42,137.28h1.05M143.09,138.77h1.05M146.53,138.18h1.05M141.98,138.61h1.05M143.9,138.86h1.05M146.95,139.24h1.05M148.58,139.1h1.05M144.79,139.27h1.05M145.04,139.93h1.05M146.3,139.69h1.05M143.91,140.01h1.05M146.34,140.83h1.05M143.8,140.66h1.05M144.83,140.22h1.05M146.74,140.76h1.05M147.41,141.18h1.05M144.43,141.14h1.05M145.09,141.79h1.05M145.61,141.41h1.05M146.03,141.11h1.05M144.58,142.08h1.05M144.05,142.48h1.05M145.13,142.71h1.05M145.86,142.93h1.05M146.23,142.2h1.05M143.97,143.43h1.05M146.81,143.91h1.05M146.52,143.57h1.05M146.49,143.54h1.05M145.13,143.5h1.05M146.74,144.59h1.05M143.74,144.99h1.05M145.69,144.07h1.05M145.2,144.14h1.05M147.22,144.64h1.05M147.21,144.39h1.05M140.89,145.85h1.05M145.24,145.52h1.05M146.03,145.49h1.05M143.36,145.68h1.05M146.77,145.72h1.05M143.56,145.04h1.05M146.84,146.13h1.05M143.25,146.65h1.05M148.73,146.54h1.05M145.73,146.97h1.05M143.19,146.32h1.05M149.15,147.27h1.05M148.19,147.83h1.05M147.7,147.66h1.05M148.2,147.52h1.05M145.87,147.62h1.05M148.7,147.04h1.05M147.14,148.43h1.05M144.4,148.55h1.05M144.91,148.43h1.05M144.78,148.87h1.05M143.3,148.91h1.05M145.52,148.52h1.05M145.31,149.8h1.05M143.54,149.21h1.05M146.58,149.94h1.05M147.48,149.53h1.05M145.09,149.26h1.05M146.02,149.58h1.05M144.26,150.09h1.05M144.82,150.95h1.05M145.27,150.86h1.05M147.54,150.43h1.05M142.07,150.14h1.05M142.06,150.71h1.05M145.22,151.61h1.05M144.23,151.07h1.05M145.28,151.14h1.05M141.46,151.18h1.05M146.74,151.45h1.05M143.11,152.94h1.05M147.22,152.78h1.05M145.82,152.52h1.05M142.25,152.59h1.05M144.01,152.78h1.05M142.17,153.9h1.05M145.48,153.22h1.05M139.84,153.37h1.05M147.28,153.95h1.05M144.42,153.72h1.05M146.72,154.81h1.05M145.18,154.63h1.05M143.34,154.02h1.05M144.78,154.35h1.05M146.72,155.35h1.05M146.57,155.86h1.05M145.45,155.56h1.05M145.02,156.66h1.05M143.48,156.7h1.05M142.26,156.3h1.05M146.38,157.54h1.05M145.17,157.5h1.05M143.86,158.54h1.05M156.38,115.82h1.05M158.43,116.89h1.05M156.42,117.86h1.05M155.1,120.51h1.05M158.57,121.29h1.05M157.38,122.16h1.05M159.81,123.8h1.05M161.16,124.87h1.05M157.26,125.74h1.05M159.77,126.92h1.05M156.43,127.75h1.05M154,128.57h1.05M160.09,129.96h1.05M156.11,129.34h1.05M159.32,130.6h1.05M157.59,130.14h1.05M160.98,131.88h1.05M154.46,132.59h1.05M154.33,133.53h1.05M158.99,134.82h1.05M159.14,134.47h1.05M154.28,135.06h1.05M160.94,135.83h1.05M158.6,136.4h1.05M160.55,136.66h1.05M155.81,137.86h1.05M159.37,137.64h1.05M155.77,138.87h1.05M155.07,138.5h1.05M157.72,139.45h1.05M157.81,140.56h1.05M159.26,140.84h1.05M161.9,141.1h1.05M159.35,141.48h1.05M156.99,142.59h1.05M155.06,142h1.05M158.02,143.26h1.05M159.12,143.9h1.05M161.15,144.63h1.05M160.13,144.65h1.05M155.41,145.09h1.05M160.23,145.15h1.05M161.34,145.5h1.05M158.99,146.16h1.05M157.86,146.51h1.05M159.14,147.63h1.05M157.32,147.38h1.05M157.85,147.34h1.05M162.94,148.74h1.05M156.29,148.31h1.05M164.43,148.12h1.05M157.83,149.74h1.05M162.06,149.65h1.05M157.77,149.06h1.05M160.8,150.02h1.05M155.64,150.11h1.05M159.4,150.46h1.05M156.86,151.04h1.05M164.11,151.53h1.05M159.84,152.46h1.05M160.9,152.98h1.05M166.17,153.44h1.05M161.63,153.95h1.05M156.23,154.08h1.05M155.98,154.86h1.05M158.5,154.37h1.05M159.48,155.26h1.05M155.85,155.81h1.05M158.88,156.64h1.05M159.66,156.28h1.05M159.88,156.41h1.05M161.62,157.05h1.05M156,157.02h1.05M159.96,157.1h1.05M158.11,158.32h1.05M159.35,158.91h1.05M159.52,158.22h1.05M155.58,159.6h1.05M157.66,159.45h1.05M158.89,160.09h1.05M155,160.55h1.05M160.76,161.55h1.05M158.38,161.69h1.05M167.32,161.82h1.05M159.54,162.67h1.05M160.94,162.93h1.05M159.63,162.85h1.05M161.14,163.6h1.05M158.07,163.46h1.05M158.32,164.96h1.05M158.47,164.31h1.05M162.78,164.69h1.05M154.54,165.61h1.05M159.5,165.85h1.05M160.42,165.14h1.05M160.73,166.28h1.05M159.5,166.87h1.05M161.24,167.04h1.05M158.24,167.79h1.05M158.1,167.41h1.05M157.48,168.91h1.05M157,168.11h1.05M162.36,168.61h1.05M155.39,169.09h1.05M163.07,169.2h1.05M157.86,169.95h1.05M155.95,170.25h1.05M158.14,170.54h1.05M159.67,170.93h1.05M162.21,171.37h1.05M159.4,171.42h1.05M157.59,171.76h1.05M158.72,172.88h1.05M157.94,172.95h1.05M162.11,172.5h1.05M160.19,173.12h1.05M155.82,173.05h1.05M158.66,173.69h1.05M161.87,174.7h1.05M158.73,174.94h1.05M158.41,174.19h1.05M161.99,175.59h1.05M160.17,175.18h1.05M159.42,175.83h1.05M153.95,176.76h1.05M159.79,176.98h1.05M161.13,176.12h1.05M156.48,177.3h1.05M161.33,177.12h1.05M161.05,177.07h1.05M156.09,178.4h1.05M161.29,178.52h1.05M162.53,178.91h1.05M161.35,179.25h1.05M156.33,179.09h1.05M159.32,180.19h1.05M157.68,180.89h1.05M156.86,180.15h1.05M161.75,181.73h1.05M158.3,181.11h1.05M160.64,182.67h1.05M164.06,182.3h1.05M156.49,183.9h1.05M157.76,183.17h1.05M161.19,183.03h1.05M156.51,184.3h1.05M161.28,184.94h1.05M162.82,185.69h1.05M156.18,185.18h1.05M159,186.76h1.05M159.38,186.89h1.05M161.66,186.03h1.05M160.77,187.23h1.05M157.49,187.71h1.05M159.78,188.61h1.05M161.85,188.2h1.05M164.46,189.23h1.05M153.96,189.73h1.05M159.11,190.06h1.05M159.74,190.15h1.05M159.49,191.87h1.05M159.85,191.49h1.05M167.99,192.62h1.05M156.71,192.94h1.05M164.25,193.97h1.05M154.5,193.01h1.05M161.71,194.29h1.05M159.59,194.51h1.05M142.54,163.49h1.05M139.64,164.83h1.05M142.28,165.86h1.05M140.44,166.16h1.05M140.26,167.86h1.05M138.04,168.1h1.05M139.63,169.55h1.05M142.88,170.54h1.05M140.82,171.17h1.05M140.38,172.3h1.05M138.88,172.63h1.05M141.57,173.79h1.05M139.63,173.64h1.05M140.28,174.99h1.05M142.1,174.1h1.05M140.66,175.77h1.05M141.86,175.39h1.05M141.66,176.36h1.05M140.33,176.36h1.05M140.54,177.95h1.05M139.52,177.94h1.05M141.32,178.07h1.05M142.28,178.36h1.05M137.24,179.48h1.05M139.19,179.17h1.05M139.63,180.67h1.05M143.19,180.79h1.05M141.54,181.76h1.05M142.37,182.21h1.05M139.51,182.59h1.05M139.69,183.64h1.05M143.82,183.9h1.05M142.16,184.73h1.05M138.87,184.17h1.05M140.91,185.22h1.05M139.03,185.96h1.05M141.2,186.76h1.05M139.56,186.89h1.05M140.96,187.84h1.05M137.23,187.8h1.05M137.98,188.96h1.05M142.06,188.77h1.05M142.09,189.17h1.05M138.6,189.29h1.05M139.31,190.49h1.05M138.18,190.9h1.05M140.36,191.11h1.05M137.83,191.06h1.05M138.88,192.82h1.05M140.28,192.5h1.05M139.86,193.11h1.05M140.02,193.45h1.05M139.98,193.81h1.05M136.92,195h1.05M137.45,194.33h1.05" stroke="#747474" stroke-width="1.05" fill="none"/>
<path d="M131.6,71.2h1.2M135.4,78h1.2M132,80h1.2M128.4,83.9h1.2M142.3,85.2h1.2M131.6,89.6h1.2M134.4,105.8h1.2M133.9,109h1.2M135,112.5h1.2M130,120.2h1.2M132.8,126.1h1.2" stroke="#8790c2" stroke-width="1.2" fill="none"/>
<path d="M130.33,68.2h1.15M135.43,68.3h1.15M139.12,69.4h1.15M134.73,71.3h1.15M136.93,72.1h1.15M140.83,72.9h1.15M141.33,74.5h1.15M136.62,75.3h1.15M122.83,78.4h1.15M139.83,78.3h1.15M140.73,78.6h1.15M142.62,80.8h1.15M142.33,82h1.15M138.53,83.8h1.15M142.62,83.6h1.15M139.43,86.8h1.15M142.62,87.1h1.15M139.83,89.6h1.15M142.33,89.6h1.15M138.53,91.2h1.15M141.33,90.9h1.15M141.03,92.8h1.15M142.33,93.4h1.15M141.33,95.3h1.15M140.43,97.2h1.15M139.83,98.4h1.15M141.73,97.8h1.15M129.12,102.4h1.15M139.12,101h1.15M138.23,102.8h1.15M140.43,102.5h1.15M137.62,105.4h1.15M141.03,105.5h1.15M139.43,111.7h1.15M133.93,113.4h1.15M139.12,114.2h1.15M137.93,116.5h1.15M135.73,119.2h1.15M137.62,120.2h1.15M129.73,123.9h1.15M130.03,130.2h1.15M131.62,129.3h1.15M132.23,135.3h1.15M104.02,112.5h1.15M140.03,70.6h1.15M138.03,70.2h1.15M142.17,84.65h1.15M142.54,89.98h1.15M141.23,87.86h1.15M141.64,90.01h1.15M141.39,98.51h1.15M141.78,83.37h1.15M143.28,79.28h1.15M140.43,103.67h1.15M140.98,97.8h1.15M142.01,95.09h1.15M141.27,100.21h1.15M140.02,98.39h1.15M142.27,81.22h1.15M143.69,80.29h1.15M140.58,95.87h1.15M141.75,96.49h1.15M141.19,101.64h1.15M140.86,91.27h1.15M142.48,89.75h1.15M142.83,86.85h1.15M140.9,103.08h1.15M143.92,80h1.15M140.7,99.32h1.15M142.19,92.65h1.15M140.16,98.58h1.15M140.7,105.93h1.15M141.27,97.9h1.15M142.08,92.52h1.15M142.18,82.07h1.15M143.41,85.61h1.15M142.97,84.68h1.15M142.61,81.9h1.15M142.58,85.96h1.15M140.5,94.71h1.15M142.96,83.57h1.15M142,88.78h1.15M142.2,95.08h1.15M141.75,98.43h1.15M140.47,104.25h1.15M142.2,89.07h1.15M141.61,92.7h1.15M141.94,93.22h1.15M141,93.72h1.15M141.15,91.96h1.15M141.02,99.85h1.15M140.79,94.82h1.15" stroke="#22347a" stroke-width="1.15" fill="none"/>
<path d="M168.4,73.1h1.2M177.6,72.9h1.2M169.1,78.8h1.2M182.2,78.7h1.2M183.9,84h1.2M175.2,88.8h1.2M164.7,110.8h1.2M175.6,118h1.2M167.2,127h1.2M173.6,128h1.2" stroke="#e88a94" stroke-width="1.2" fill="none"/>
<path d="M171.83,69h1.15M188.62,68.3h1.15M194.93,68.3h1.15M171.03,73.2h1.15M173.43,74.2h1.15M175.93,74.1h1.15M180.23,73.3h1.15M164.93,79.6h1.15M170.73,80.2h1.15M174.33,79.1h1.15M173.83,81.3h1.15M179.93,82.5h1.15M164.62,84.8h1.15M170.73,88.5h1.15M162.62,92.5h1.15M175.93,92.6h1.15M187.23,95.5h1.15M165.62,95.5h1.15M168.93,95h1.15M170.73,93.7h1.15M167.03,97.7h1.15M168.93,97.7h1.15M168.23,101.2h1.15M172.03,100.4h1.15M173.62,99.8h1.15M165.43,103h1.15M166.62,103.8h1.15M169.43,106h1.15M169.73,107.7h1.15M165.12,107.3h1.15M165.43,109h1.15M169.73,112h1.15M171.23,112.3h1.15M168.93,113.8h1.15M168.23,115.4h1.15M167.23,116.5h1.15M170.43,118.5h1.15M168.83,121.5h1.15M172.83,123h1.15M167.03,125.8h1.15M170.43,127h1.15M168.93,130.8h1.15M169.43,135.8h1.15M171.62,135h1.15M170.12,142.3h1.15M168.93,144.2h1.15M215.23,68.3h1.15M215.62,90.4h1.15M166.62,99.3h1.15M167.83,96.6h1.15M166.23,101.9h1.15M167.53,104.6h1.15" stroke="#d22a3a" stroke-width="1.15" fill="none"/>
</g>
<circle cx="175.3" cy="104.4" r="1" fill="#1f7a30"/>
<circle cx="152" cy="167.1" r="0.85" fill="#1f7a30"/>
<circle cx="154.9" cy="179.8" r="0.85" fill="#1f7a30"/>
<circle cx="154.9" cy="184.4" r="0.85" fill="#1f7a30"/>
<circle cx="156.8" cy="187.5" r="0.85" fill="#1f7a30"/>
<circle cx="153.5" cy="190" r="0.85" fill="#1f7a30"/>
<circle cx="155" cy="190.2" r="0.85" fill="#1f7a30"/>
<circle cx="153.5" cy="194" r="0.85" fill="#1f7a30"/>
<circle cx="156.8" cy="194" r="0.85" fill="#1f7a30"/>
<circle cx="150.6" cy="194" r="0.85" fill="#1f7a30"/>
<circle cx="152.2" cy="190.6" r="0.7" fill="#1f7a30"/>
<text x="178" y="107.7" font-size="8.3" textLength="27.4" lengthAdjust="spacingAndGlyphs">HDAC7</text>
<text x="152.5" y="168.3" font-size="8" fill="#0c0c0c" textLength="9" lengthAdjust="spacingAndGlyphs" class="nm">11</text>
<text x="152.6" y="177.4" font-size="8" fill="#0c0c0c" textLength="4.5" lengthAdjust="spacingAndGlyphs" class="nm">5</text>
<text x="147.3" y="182.7" font-size="8" fill="#0c0c0c" textLength="4.5" lengthAdjust="spacingAndGlyphs" class="nm">8</text>
<text x="155.7" y="183.7" font-size="8" fill="#0c0c0c" textLength="4.5" lengthAdjust="spacingAndGlyphs" class="nm">4</text>
<text x="143" y="186.7" font-size="8" fill="#0c0c0c" textLength="4.5" lengthAdjust="spacingAndGlyphs" class="nm">3</text>
<text x="147.5" y="189.6" font-size="8" fill="#0c0c0c" textLength="4.5" lengthAdjust="spacingAndGlyphs" class="nm">6</text>
<text x="161" y="187.5" font-size="8" fill="#0c0c0c" textLength="9" lengthAdjust="spacingAndGlyphs" class="nm">10</text>
<text x="139.3" y="190.4" font-size="8" fill="#0c0c0c" textLength="4.5" lengthAdjust="spacingAndGlyphs" class="nm">1</text>
<text x="144.1" y="194.7" font-size="8" fill="#0c0c0c" textLength="4.5" lengthAdjust="spacingAndGlyphs" class="nm">9</text>
<text x="158.6" y="194.7" font-size="8" fill="#0c0c0c" textLength="4.5" lengthAdjust="spacingAndGlyphs" class="nm">2</text>
<path d="M60.7,195.5V51.6H245.6V195.5" fill="none" stroke="#000" stroke-width="1"/>
<path d="M60.2,195.5L246.1,195.5" stroke="#000" stroke-width="1.4"/>
<path d="M57.3,195.6H60.7M57.3,179.4H60.7M57.3,163.2H60.7M57.3,147H60.7M57.3,130.8H60.7M57.3,114.6H60.7M57.3,98.4H60.7M57.3,82.2H60.7M57.3,66H60.7M66.28,195.5V198.9M95.12,195.5V198.9M123.96,195.5V198.9M152.8,195.5V198.9M181.64,195.5V198.9M210.48,195.5V198.9M239.32,195.5V198.9" stroke="#000" stroke-width="1" fill="none"/>
<text x="54" y="69.1" font-size="8.9" text-anchor="end" textLength="12" lengthAdjust="spacingAndGlyphs">4.0</text>
<text x="54" y="101.5" font-size="8.9" text-anchor="end" textLength="12" lengthAdjust="spacingAndGlyphs">3.0</text>
<text x="54" y="133.9" font-size="8.9" text-anchor="end" textLength="12" lengthAdjust="spacingAndGlyphs">2.0</text>
<text x="54" y="166.3" font-size="8.9" text-anchor="end" textLength="12" lengthAdjust="spacingAndGlyphs">1.0</text>
<text x="54" y="198.7" font-size="8.9" text-anchor="end">0</text>
<text x="66.58" y="209.7" text-anchor="middle">-6</text>
<text x="95.42" y="209.7" text-anchor="middle">-4</text>
<text x="124.26" y="209.7" text-anchor="middle">-2</text>
<text x="152.8" y="209.7" text-anchor="middle">0</text>
<text x="181.64" y="209.7" text-anchor="middle">2</text>
<text x="210.48" y="209.7" text-anchor="middle">4</text>
<text x="239.32" y="209.7" text-anchor="middle">6</text>
<text class="cn" transform="translate(35.4,123.4) rotate(-90) scale(0.59,1)" font-size="10.6" font-weight="bold" text-anchor="middle" textLength="38.99" lengthAdjust="spacing">-log10p</text>
<text class="cn" transform="translate(154,224.6) scale(0.59,1)" font-size="10.6" font-weight="bold" text-anchor="middle" textLength="98.49" lengthAdjust="spacing">BCMA cell surface</text>
<text class="cn" transform="translate(152.7,235.6) scale(0.59,1)" font-size="10.6" font-weight="bold" text-anchor="middle" textLength="56.81" lengthAdjust="spacing">expression</text>
<text x="74" y="237.6" font-size="8.3" fill="#2a2a2a">Decrease</text>
<text x="197.8" y="237.6" font-size="8.3" fill="#2a2a2a">Increase</text>
<path d="M76,220.3H107" stroke="#000" stroke-width="0.9"/>
<path d="M74.2,220.3L80.6,217.6L79.2,220.3L80.6,223Z" fill="#000"/>
<path d="M200,220.3H230" stroke="#000" stroke-width="0.9"/>
<path d="M231.8,220.3L225.4,217.6L226.8,220.3L225.4,223Z" fill="#000"/>
<text x="252" y="16.3" font-size="12.5" font-weight="bold" class="pl" fill="#000">B</text>
<text x="349" y="26.6" font-size="8.1" textLength="119.6" lengthAdjust="spacingAndGlyphs">Panobinostat: Pan-HDAC inhibitor</text>
<text x="349" y="38" font-size="8.1" textLength="103.2" lengthAdjust="spacingAndGlyphs">Ricolinostat: HDAC6 inhibitor</text>
<text x="349" y="49.3" font-size="8.1" textLength="121" lengthAdjust="spacingAndGlyphs">TMP269: Class IIa HDAC inhibitor</text>
<path d="M318.6,126.2V120.34M316.4,120.34H320.8" stroke="#1e1e1e" stroke-width="0.95" fill="none"/>
<rect x="314.45" y="125.95" width="8.3" height="53.85" fill="#a10029" stroke="#8e0022" stroke-width="0.5"/>
<path d="M332.1,172.19V166.5M329.9,166.5H334.3" stroke="#1e1e1e" stroke-width="0.95" fill="none"/>
<rect x="328.05" y="171.94" width="8.1" height="7.86" fill="#2a497f" stroke="#1d3a74" stroke-width="0.5"/>
<path d="M345.4,148.08V132.45M343.2,132.45H347.6" stroke="#1e1e1e" stroke-width="0.95" fill="none"/>
<rect x="341.35" y="147.83" width="8.1" height="31.97" fill="#2a497f" stroke="#1d3a74" stroke-width="0.5"/>
<path d="M358.55,165.95V154.55M356.35,154.55H360.75" stroke="#1e1e1e" stroke-width="0.95" fill="none"/>
<rect x="354.45" y="165.7" width="8.2" height="14.1" fill="#6bb043" stroke="#5a9c36" stroke-width="0.5"/>
<path d="M371.7,178V169.48M369.5,169.48H373.9" stroke="#1e1e1e" stroke-width="0.95" fill="none"/>
<rect x="367.65" y="177.75" width="8.1" height="2.05" fill="#6bb043" stroke="#5a9c36" stroke-width="0.5"/>
<path d="M385.15,104.21V94.55M382.95,94.55H387.35" stroke="#1e1e1e" stroke-width="0.95" fill="none"/>
<rect x="381.05" y="103.96" width="8.2" height="75.84" fill="#4f2564" stroke="#43195a" stroke-width="0.5"/>
<path d="M398.55,70.81V66.86M396.35,66.86H400.75" stroke="#1e1e1e" stroke-width="0.95" fill="none"/>
<rect x="394.45" y="70.56" width="8.2" height="109.24" fill="#4f2564" stroke="#43195a" stroke-width="0.5"/>
<path d="M420.3,126.2V124.41M418.1,124.41H422.5" stroke="#1e1e1e" stroke-width="0.95" fill="none"/>
<rect x="416.25" y="125.95" width="8.1" height="53.85" fill="#a10029" stroke="#8e0022" stroke-width="0.5"/>
<path d="M433.55,119.68V118.33M431.35,118.33H435.75" stroke="#1e1e1e" stroke-width="0.95" fill="none"/>
<rect x="429.45" y="119.43" width="8.2" height="60.37" fill="#2a497f" stroke="#1d3a74" stroke-width="0.5"/>
<path d="M446.75,121.58V118.44M444.55,118.44H448.95" stroke="#1e1e1e" stroke-width="0.95" fill="none"/>
<rect x="442.65" y="121.33" width="8.2" height="58.47" fill="#2a497f" stroke="#1d3a74" stroke-width="0.5"/>
<path d="M460.3,124.19V122.79M458.1,122.79H462.5" stroke="#1e1e1e" stroke-width="0.95" fill="none"/>
<rect x="456.25" y="123.94" width="8.1" height="55.86" fill="#6bb043" stroke="#5a9c36" stroke-width="0.5"/>
<path d="M473.35,120.93V118.33M471.15,118.33H475.55" stroke="#1e1e1e" stroke-width="0.95" fill="none"/>
<rect x="469.25" y="120.68" width="8.2" height="59.12" fill="#6bb043" stroke="#5a9c36" stroke-width="0.5"/>
<path d="M486.85,114.63V112.31M484.65,112.31H489.05" stroke="#1e1e1e" stroke-width="0.95" fill="none"/>
<rect x="482.75" y="114.38" width="8.2" height="65.42" fill="#4f2564" stroke="#43195a" stroke-width="0.5"/>
<path d="M500.3,109.58V108.23M498.1,108.23H502.5" stroke="#1e1e1e" stroke-width="0.95" fill="none"/>
<rect x="496.25" y="109.33" width="8.1" height="70.47" fill="#4f2564" stroke="#43195a" stroke-width="0.5"/>
<path d="M307.6,41L307.6,180.4" stroke="#000" stroke-width="1.45"/>
<path d="M304.6,179.8L511.2,179.8" stroke="#000" stroke-width="1.3"/>
<path d="M304,179.8H307.6M304,152.65H307.6M304,125.5H307.6M304,98.35H307.6M304,71.2H307.6M304,44.05H307.6" stroke="#000" stroke-width="1" fill="none"/>
<text x="301.1" y="182.9" font-size="8.9" text-anchor="end" textLength="12" lengthAdjust="spacingAndGlyphs">0.0</text>
<text x="301.1" y="155.75" font-size="8.9" text-anchor="end" textLength="12" lengthAdjust="spacingAndGlyphs">0.5</text>
<text x="301.1" y="128.6" font-size="8.9" text-anchor="end" textLength="12" lengthAdjust="spacingAndGlyphs">1.0</text>
<text x="301.1" y="101.45" font-size="8.9" text-anchor="end" textLength="12" lengthAdjust="spacingAndGlyphs">1.5</text>
<text x="301.1" y="74.3" font-size="8.9" text-anchor="end" textLength="12" lengthAdjust="spacingAndGlyphs">2.0</text>
<text x="301.1" y="47.15" font-size="8.9" text-anchor="end" textLength="12" lengthAdjust="spacingAndGlyphs">2.5</text>
<text class="cn" transform="translate(270.6,110) rotate(-90) scale(0.59,1)" font-size="10.6" font-weight="bold" text-anchor="middle" textLength="78.82" lengthAdjust="spacing">Fold change in</text>
<text class="cn" transform="translate(283,111) rotate(-90) scale(0.59,1)" font-size="10.6" font-weight="bold" text-anchor="middle" textLength="142.18" lengthAdjust="spacing">BCMA cell surface protein</text>
<text transform="translate(321.8,197) rotate(-90)" font-size="9.4" text-anchor="middle" textLength="26.3" lengthAdjust="spacingAndGlyphs">DMSO</text>
<text transform="translate(423.4,197) rotate(-90)" font-size="9.4" text-anchor="middle" textLength="26.3" lengthAdjust="spacingAndGlyphs">DMSO</text>
<path d="M328.3,194.2L347.9,188.4L347.9,194.2Z" fill="#0a0a0a"/>
<path d="M354.2,194.2L373.7,188.4L373.7,194.2Z" fill="#0a0a0a"/>
<path d="M381.7,194.2L401.3,188.4L401.3,194.2Z" fill="#0a0a0a"/>
<path d="M432,194.2L451.3,188.4L451.3,194.2Z" fill="#0a0a0a"/>
<path d="M458,194.2L477.3,188.4L477.3,194.2Z" fill="#0a0a0a"/>
<path d="M485.4,194.2L504.8,188.4L504.8,194.2Z" fill="#0a0a0a"/>
<text x="328.9" y="205.1" font-size="9.3" textLength="18.5" lengthAdjust="spacingAndGlyphs">Pano</text>
<text x="355.9" y="205.1" font-size="9.3" textLength="15.8" lengthAdjust="spacingAndGlyphs">Rico</text>
<text x="375.1" y="205.1" font-size="9.3" textLength="32.5" lengthAdjust="spacingAndGlyphs">TMP269</text>
<text x="432.1" y="205.1" font-size="9.3" textLength="18.6" lengthAdjust="spacingAndGlyphs">Pano</text>
<text x="459.1" y="205.1" font-size="9.3" textLength="16.6" lengthAdjust="spacingAndGlyphs">Rico</text>
<text x="478.4" y="205.1" font-size="9.3" textLength="32.5" lengthAdjust="spacingAndGlyphs">TMP269</text>
<path d="M322,213.8L407.2,213.8" stroke="#000" stroke-width="1.05"/>
<path d="M425.8,213.8L510.9,213.8" stroke="#000" stroke-width="1.05"/>
<text x="352.1" y="224.3" font-size="9.3" textLength="25.3" lengthAdjust="spacingAndGlyphs">BCMA</text>
<text x="456.6" y="224.1" font-size="9.3" textLength="23.3" lengthAdjust="spacingAndGlyphs">CD38</text>
<text x="7" y="268.6" font-size="12.5" font-weight="bold" class="pl" fill="#000">C</text>
<text x="96.2" y="281.9" font-size="9.3" textLength="33.7" lengthAdjust="spacingAndGlyphs">TMP269</text>
<path d="M89.2,287.6L137,287.6" stroke="#000" stroke-width="1.05"/>
<text transform="translate(54.3,318.6) rotate(-45)" font-size="8.8" textLength="28.4" lengthAdjust="spacingAndGlyphs">DMSO</text>
<text transform="translate(81.3,316.8) rotate(-45)" font-size="8.8" textLength="26" lengthAdjust="spacingAndGlyphs">2.5µM</text>
<text transform="translate(104.3,317) rotate(-45)" font-size="8.8" textLength="20" lengthAdjust="spacingAndGlyphs">5µM</text>
<text transform="translate(130.4,317.8) rotate(-45)" font-size="8.8" textLength="24.4" lengthAdjust="spacingAndGlyphs">10µM</text>
<g clip-path="url(#clipC1)">
<rect x="40.4" y="321.9" width="106.4" height="27.8" fill="url(#b1bg)"/>
<g filter="url(#blur2)">
<rect x="39.4" y="320" width="4.4" height="32" fill="#b0b0b0" opacity="0.5"/>
<rect x="66.7" y="320" width="4.4" height="32" fill="#b0b0b0" opacity="0.5"/>
<rect x="93.4" y="320" width="4.4" height="32" fill="#b0b0b0" opacity="0.5"/>
<rect x="117.1" y="320" width="4.4" height="32" fill="#b0b0b0" opacity="0.5"/>
<rect x="143.8" y="320" width="4.4" height="32" fill="#b0b0b0" opacity="0.5"/>
<ellipse cx="55.6" cy="336.3" rx="9" ry="3.2" fill="#101010" opacity="0.6"/>
<ellipse cx="81.2" cy="336.3" rx="9" ry="3" fill="#101010" opacity="0.42"/>
<ellipse cx="107" cy="336.3" rx="8.5" ry="3.2" fill="#101010" opacity="0.68"/>
<ellipse cx="132.4" cy="336.3" rx="9.5" ry="3.8" fill="#101010" opacity="0.95"/>
</g>
<rect x="40.4" y="321.9" width="106.4" height="27.8" fill="#000" filter="url(#noise)" opacity="0.22"/>
</g>
<g clip-path="url(#clipC2)">
<rect x="40.4" y="354.7" width="106.4" height="22.2" fill="url(#b2bg)"/>
<g filter="url(#blur1)">
<rect x="47.2" y="362.5" width="21.6" height="4.9" rx="2.45" fill="#050505"/>
<ellipse cx="59" cy="365.6" rx="6.6" ry="2.7" fill="#050505"/>
<rect x="71.4" y="362.5" width="22.2" height="4.9" rx="2.45" fill="#050505"/>
<ellipse cx="83.5" cy="365.6" rx="6.9" ry="2.7" fill="#050505"/>
<rect x="96.1" y="362.5" width="20.7" height="4.9" rx="2.45" fill="#050505"/>
<ellipse cx="107.45" cy="365.6" rx="6.15" ry="2.7" fill="#050505"/>
<rect x="119.6" y="362.5" width="21.4" height="4.9" rx="2.45" fill="#050505"/>
<ellipse cx="131.3" cy="365.6" rx="6.5" ry="2.7" fill="#050505"/>
</g>
</g>
<path d="M147.6,335.6H152.0" stroke="#000" stroke-width="0.9"/>
<path d="M145.8,335.6L149.4,333.7L149.4,337.5Z" fill="#000"/>
<text x="155.6" y="338" font-size="8.5" textLength="44.4" lengthAdjust="spacingAndGlyphs">BCMA total</text>
<text x="155.6" y="348.6" font-size="8.5">protein</text>
<text x="155.6" y="367.3" font-size="8.5" textLength="31.4" lengthAdjust="spacingAndGlyphs">GAPDH</text>
<text x="7" y="405.3" font-size="12.5" font-weight="bold" class="pl" fill="#000">D</text>
<rect x="67.85" y="457.65" width="14.4" height="25.75" fill="#a10029" stroke="#8e0022" stroke-width="0.5"/>
<path d="M97.45,463.22V461.19M93.65,461.19H101.25" stroke="#1e1e1e" stroke-width="0.95" fill="none"/>
<rect x="90.25" y="462.97" width="14.4" height="20.43" fill="#4f2564" stroke="#43195a" stroke-width="0.5"/>
<path d="M119.8,449.92V448.02M116,448.02H123.6" stroke="#1e1e1e" stroke-width="0.95" fill="none"/>
<rect x="112.65" y="449.67" width="14.3" height="33.73" fill="#4f2564" stroke="#43195a" stroke-width="0.5"/>
<path d="M141.8,439.68V425.54M138,425.54H145.6" stroke="#1e1e1e" stroke-width="0.95" fill="none"/>
<rect x="134.65" y="439.43" width="14.3" height="43.97" fill="#4f2564" stroke="#43195a" stroke-width="0.5"/>
<path d="M60.6,413.4L60.6,484" stroke="#000" stroke-width="1.45"/>
<path d="M60.1,483.4L157,483.4" stroke="#000" stroke-width="1.3"/>
<path d="M57,483.4H60.6M57,470.1H60.6M57,456.8H60.6M57,443.5H60.6M57,430.2H60.6M57,416.9H60.6" stroke="#000" stroke-width="1" fill="none"/>
<text x="54.1" y="486.2" font-size="8.9" text-anchor="end" textLength="12" lengthAdjust="spacingAndGlyphs">0.0</text>
<text x="54.1" y="472.9" font-size="8.9" text-anchor="end" textLength="12" lengthAdjust="spacingAndGlyphs">0.5</text>
<text x="54.1" y="459.6" font-size="8.9" text-anchor="end" textLength="12" lengthAdjust="spacingAndGlyphs">1.0</text>
<text x="54.1" y="446.3" font-size="8.9" text-anchor="end" textLength="12" lengthAdjust="spacingAndGlyphs">1.5</text>
<text x="54.1" y="433" font-size="8.9" text-anchor="end" textLength="12" lengthAdjust="spacingAndGlyphs">2.0</text>
<text x="54.1" y="419.7" font-size="8.9" text-anchor="end" textLength="12" lengthAdjust="spacingAndGlyphs">2.5</text>
<text class="cn" transform="translate(23.6,449.1) rotate(-90) scale(0.59,1)" font-size="10.6" font-weight="bold" text-anchor="middle" textLength="78.82" lengthAdjust="spacing">Fold change in</text>
<text class="cn" transform="translate(34.6,450) rotate(-90) scale(0.59,1)" font-size="10.6" font-weight="bold" text-anchor="middle" textLength="102.86" lengthAdjust="spacing">BCMA total protein</text>
<text transform="translate(60.2,511.8) rotate(-45)" font-size="8.8" textLength="27" lengthAdjust="spacingAndGlyphs">DMSO</text>
<text transform="translate(84.5,510.4) rotate(-45)" font-size="8.8" textLength="25.4" lengthAdjust="spacingAndGlyphs">2.5µM</text>
<text transform="translate(111,505.6) rotate(-45)" font-size="8.8" textLength="18.8" lengthAdjust="spacingAndGlyphs">5µM</text>
<text transform="translate(129.6,508) rotate(-45)" font-size="8.8" textLength="23.4" lengthAdjust="spacingAndGlyphs">10µM</text>
<path d="M87,516.3L153,516.3" stroke="#000" stroke-width="1.05"/>
<text x="103.2" y="527.1" font-size="9.3" textLength="33.7" lengthAdjust="spacingAndGlyphs">TMP269</text>
<text x="252" y="241.3" font-size="12.5" font-weight="bold" class="pl" fill="#000">E</text>
<path d="M322.95,334.77V332.44M320.15,332.44H325.75" stroke="#1e1e1e" stroke-width="0.95" fill="none"/>
<rect x="317.35" y="334.52" width="11.2" height="53.68" fill="#a10029" stroke="#8e0022" stroke-width="0.5"/>
<path d="M340.85,384.38V382.49M338.05,382.49H343.65" stroke="#1e1e1e" stroke-width="0.95" fill="none"/>
<rect x="335.25" y="384.13" width="11.2" height="4.07" fill="#2a497f" stroke="#1d3a74" stroke-width="0.5"/>
<path d="M358.65,323.73V321.29M355.85,321.29H361.45" stroke="#1e1e1e" stroke-width="0.95" fill="none"/>
<rect x="353.05" y="323.48" width="11.2" height="64.72" fill="#6bb043" stroke="#5a9c36" stroke-width="0.5"/>
<path d="M376.65,327.43V323.46M373.85,323.46H379.45" stroke="#1e1e1e" stroke-width="0.95" fill="none"/>
<rect x="371.05" y="327.18" width="11.2" height="61.02" fill="#4f2564" stroke="#43195a" stroke-width="0.5"/>
<path d="M394.6,266.77V262.54M391.8,262.54H397.4" stroke="#1e1e1e" stroke-width="0.95" fill="none"/>
<rect x="388.95" y="266.52" width="11.3" height="121.68" fill="#4f2564" stroke="#43195a" stroke-width="0.5"/>
<path d="M424.25,335.04V330.54M421.45,330.54H427.05" stroke="#1e1e1e" stroke-width="0.95" fill="none"/>
<rect x="418.65" y="334.79" width="11.2" height="53.41" fill="#a10029" stroke="#8e0022" stroke-width="0.5"/>
<path d="M442.25,317.09V301.43M439.45,301.43H445.05" stroke="#1e1e1e" stroke-width="0.95" fill="none"/>
<rect x="436.65" y="316.84" width="11.2" height="71.36" fill="#2a497f" stroke="#1d3a74" stroke-width="0.5"/>
<path d="M460.3,291.52V286.74M457.5,286.74H463.1" stroke="#1e1e1e" stroke-width="0.95" fill="none"/>
<rect x="454.75" y="291.27" width="11.1" height="96.93" fill="#6bb043" stroke="#5a9c36" stroke-width="0.5"/>
<path d="M478.25,338.96V337.5M475.45,337.5H481.05" stroke="#1e1e1e" stroke-width="0.95" fill="none"/>
<rect x="472.65" y="338.71" width="11.2" height="49.49" fill="#4f2564" stroke="#43195a" stroke-width="0.5"/>
<path d="M496.25,332.87V330.54M493.45,330.54H499.05" stroke="#1e1e1e" stroke-width="0.95" fill="none"/>
<rect x="490.65" y="332.62" width="11.2" height="55.58" fill="#4f2564" stroke="#43195a" stroke-width="0.5"/>
<path d="M307.6,249.4L307.6,388.8" stroke="#000" stroke-width="1.45"/>
<path d="M304.6,388.2L511.3,388.2" stroke="#000" stroke-width="1.3"/>
<path d="M304,388.2H307.6M304,361H307.6M304,333.8H307.6M304,306.6H307.6M304,279.4H307.6M304,252.2H307.6" stroke="#000" stroke-width="1" fill="none"/>
<text x="301.1" y="391.3" font-size="8.9" text-anchor="end" textLength="12" lengthAdjust="spacingAndGlyphs">0.0</text>
<text x="301.1" y="364.1" font-size="8.9" text-anchor="end" textLength="12" lengthAdjust="spacingAndGlyphs">0.5</text>
<text x="301.1" y="336.9" font-size="8.9" text-anchor="end" textLength="12" lengthAdjust="spacingAndGlyphs">1.0</text>
<text x="301.1" y="309.7" font-size="8.9" text-anchor="end" textLength="12" lengthAdjust="spacingAndGlyphs">1.5</text>
<text x="301.1" y="282.5" font-size="8.9" text-anchor="end" textLength="12" lengthAdjust="spacingAndGlyphs">2.0</text>
<text x="301.1" y="255.3" font-size="8.9" text-anchor="end" textLength="12" lengthAdjust="spacingAndGlyphs">2.5</text>
<text class="cn" transform="translate(270.9,318.7) rotate(-90) scale(0.59,1)" font-size="10.6" font-weight="bold" text-anchor="middle" textLength="150.92" lengthAdjust="spacing">Fold change in mRNA levels</text>
<text class="cn" transform="translate(282.7,318.6) rotate(-90) scale(0.59,1)" font-size="10.6" font-weight="bold" text-anchor="middle" textLength="103.87" lengthAdjust="spacing">normalized to Actin</text>
<text transform="translate(325.3,391.7) rotate(-90)" font-size="9.4" text-anchor="end" textLength="26.5" lengthAdjust="spacingAndGlyphs">DMSO</text>
<text transform="translate(343.5,391.7) rotate(-90)" font-size="9.4" text-anchor="end" textLength="19.1" lengthAdjust="spacingAndGlyphs">Pano</text>
<text transform="translate(361.8,391.7) rotate(-90)" font-size="9.4" text-anchor="end" textLength="16.5" lengthAdjust="spacingAndGlyphs">Rico</text>
<text transform="translate(427.1,391.7) rotate(-90)" font-size="9.4" text-anchor="end" textLength="26.5" lengthAdjust="spacingAndGlyphs">DMSO</text>
<text transform="translate(445.4,391.7) rotate(-90)" font-size="9.4" text-anchor="end" textLength="19.1" lengthAdjust="spacingAndGlyphs">Pano</text>
<text transform="translate(463.4,391.7) rotate(-90)" font-size="9.4" text-anchor="end" textLength="16.5" lengthAdjust="spacingAndGlyphs">Rico</text>
<path d="M369.4,403.3L399.3,397L399.3,403.3Z" fill="#0a0a0a"/>
<path d="M470.8,403.3L501.3,397L501.3,403.3Z" fill="#0a0a0a"/>
<text x="367.6" y="421.8" font-size="9.3" textLength="33.05" lengthAdjust="spacingAndGlyphs">TMP269</text>
<text x="469.6" y="421.8" font-size="9.3" textLength="32.8" lengthAdjust="spacingAndGlyphs">TMP269</text>
<path d="M316.3,427.5L400.8,427.5" stroke="#000" stroke-width="1.05"/>
<path d="M417.5,427.5L502.5,427.5" stroke="#000" stroke-width="1.05"/>
<text x="345.85" y="437.9" font-size="9.3" textLength="25.3" lengthAdjust="spacingAndGlyphs">BCMA</text>
<text x="448.85" y="437.9" font-size="9.3" textLength="23.05" lengthAdjust="spacingAndGlyphs">CD38</text>
<text x="252" y="454.5" font-size="12.5" font-weight="bold" class="pl" fill="#000">F</text>
<path d="M324.7,565.85V563.96M319,563.96H330.4" stroke="#1e1e1e" stroke-width="0.95" fill="none"/>
<rect x="313.55" y="565.6" width="22.3" height="32.7" fill="#a10029" stroke="#8e0022" stroke-width="0.5"/>
<path d="M358.7,539.33V537.2M353,537.2H364.4" stroke="#1e1e1e" stroke-width="0.95" fill="none"/>
<rect x="347.55" y="539.08" width="22.3" height="59.22" fill="#2a497f" stroke="#1d3a74" stroke-width="0.5"/>
<path d="M392.6,553.61V548.15M386.9,548.15H398.3" stroke="#1e1e1e" stroke-width="0.95" fill="none"/>
<rect x="381.45" y="553.36" width="22.3" height="44.94" fill="#6bb043" stroke="#5a9c36" stroke-width="0.5"/>
<path d="M426.5,548.17V541.69M420.8,541.69H432.2" stroke="#1e1e1e" stroke-width="0.95" fill="none"/>
<rect x="415.35" y="547.92" width="22.3" height="50.38" fill="#6bb043" stroke="#5a9c36" stroke-width="0.5"/>
<path d="M460.4,510.43V501.4M454.7,501.4H466.1" stroke="#1e1e1e" stroke-width="0.95" fill="none"/>
<rect x="449.25" y="510.18" width="22.3" height="88.12" fill="#4f2564" stroke="#43195a" stroke-width="0.5"/>
<path d="M494.3,498.36V497.39M488.6,497.39H500" stroke="#1e1e1e" stroke-width="0.95" fill="none"/>
<rect x="483.15" y="498.11" width="22.3" height="100.19" fill="#4f2564" stroke="#43195a" stroke-width="0.5"/>
<path d="M307.5,459.4L307.5,598.9" stroke="#000" stroke-width="1.45"/>
<path d="M304.4,598.3L511.3,598.3" stroke="#000" stroke-width="1.3"/>
<path d="M303.9,598.3H307.5M303.9,564.3H307.5M303.9,530.3H307.5M303.9,496.3H307.5M303.9,462.3H307.5M324.7,598.3V601.6M358.7,598.3V601.6M392.6,598.3V601.6M426.5,598.3V601.6M460.4,598.3V601.6M494.3,598.3V601.6" stroke="#000" stroke-width="1" fill="none"/>
<text x="301.2" y="601.4" font-size="8.9" text-anchor="end">0</text>
<text x="301.2" y="567.4" font-size="8.9" text-anchor="end">1</text>
<text x="301.2" y="533.4" font-size="8.9" text-anchor="end">2</text>
<text x="301.2" y="499.4" font-size="8.9" text-anchor="end">3</text>
<text x="301.2" y="465.4" font-size="8.9" text-anchor="end">4</text>
<text class="cn" transform="translate(275.2,528.9) rotate(-90) scale(0.59,1)" font-size="10.6" font-weight="bold" text-anchor="middle" textLength="78.82" lengthAdjust="spacing">Fold change in</text>
<text class="cn" transform="translate(287.1,528.7) rotate(-90) scale(0.59,1)" font-size="10.6" font-weight="bold" text-anchor="middle" textLength="142.18" lengthAdjust="spacing">BCMA cell surface protein</text>
<text x="252" y="612.9" font-size="8.9" textLength="49.4" lengthAdjust="spacingAndGlyphs">RO4929097</text>
<text x="267.8" y="626" font-size="8.9" textLength="33.6" lengthAdjust="spacingAndGlyphs">TMP269</text>
<text x="324.7" y="612.9" font-size="8.7" text-anchor="middle">–</text>
<text x="324.7" y="625.8" font-size="8.7" text-anchor="middle">–</text>
<text x="358.7" y="612.9" font-size="8.7" text-anchor="middle">5 µM</text>
<text x="358.7" y="625.8" font-size="8.7" text-anchor="middle">–</text>
<text x="392.6" y="612.9" font-size="8.7" text-anchor="middle">–</text>
<text x="392.6" y="625.8" font-size="8.7" text-anchor="middle">5 µM</text>
<text x="426.5" y="612.9" font-size="8.7" text-anchor="middle">–</text>
<text x="426.5" y="625.8" font-size="8.7" text-anchor="middle">10 µM</text>
<text x="460.4" y="612.9" font-size="8.7" text-anchor="middle">5 µM</text>
<text x="460.4" y="625.8" font-size="8.7" text-anchor="middle">5 µM</text>
<text x="494.3" y="612.9" font-size="8.7" text-anchor="middle">5 µM</text>
<text x="494.3" y="625.8" font-size="8.7" text-anchor="middle">10 µM</text>
<path d="M0.6,0V635" stroke="#000" stroke-width="1.3"/>
<path d="M0,0.5H520" stroke="#000" stroke-width="1"/>
<path d="M519.4,0V635" stroke="#000" stroke-width="1.2"/>
<path d="M0,634.4H520" stroke="#000" stroke-width="1.2"/>
</svg>
</body></html>
